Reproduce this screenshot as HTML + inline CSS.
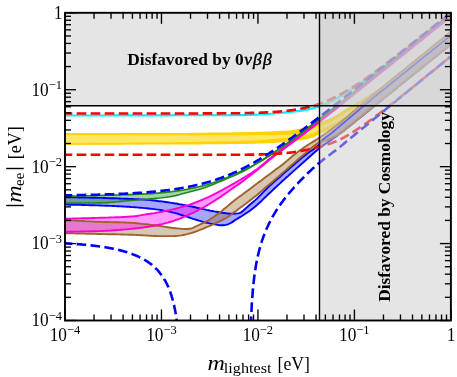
<!DOCTYPE html>
<html><head><meta charset="utf-8"><title>mee plot</title>
<style>
html,body{margin:0;padding:0;background:#fff;}
svg{display:block;will-change:transform;}
text{font-family:"Liberation Serif",serif;fill:#000;}
.tl{font-size:18px;}
.sup{font-size:13px;}
.mi{font-size:21.5px;font-style:italic;}
.ev{font-size:19px;}
.sub{font-size:14px;}
.bold{font-weight:bold;font-size:16px;}
</style></head><body>
<svg width="457" height="377" viewBox="0 0 457 377">
<rect width="457" height="377" fill="#fff"/>
<defs><clipPath id="c"><rect x="65.0" y="12.8" width="385.9" height="307.7"/></clipPath></defs>
<g clip-path="url(#c)">
<path d="M65.0,134.0L66.9,134.0L68.9,134.0L70.8,134.0L72.8,134.0L74.7,134.0L76.6,134.0L78.6,134.0L80.5,134.0L82.5,134.0L84.4,134.0L86.3,134.0L88.3,134.0L90.2,134.0L92.1,134.0L94.1,134.0L96.0,134.0L98.0,134.0L99.9,134.0L101.8,134.0L103.8,134.0L105.7,134.0L107.7,134.0L109.6,134.0L111.5,134.0L113.5,134.0L115.4,134.0L117.4,134.0L119.3,134.0L121.2,134.0L123.2,133.9L125.1,133.9L127.1,133.9L129.0,133.9L130.9,133.9L132.9,133.9L134.8,133.9L136.8,133.9L138.7,133.9L140.6,133.9L142.6,133.9L144.5,133.9L146.4,133.9L148.4,133.9L150.3,133.9L152.3,133.9L154.2,133.9L156.1,133.9L158.1,133.9L160.0,133.9L162.0,133.9L163.9,133.9L165.8,133.8L167.8,133.8L169.7,133.8L171.7,133.8L173.6,133.8L175.5,133.8L177.5,133.8L179.4,133.7L181.4,133.7L183.3,133.7L185.2,133.7L187.2,133.7L189.1,133.7L191.0,133.6L193.0,133.6L194.9,133.6L196.9,133.6L198.8,133.6L200.7,133.5L202.7,133.5L204.6,133.5L206.6,133.5L208.5,133.4L210.4,133.4L212.4,133.4L214.3,133.4L216.3,133.3L218.2,133.3L220.1,133.3L222.1,133.3L224.0,133.2L226.0,133.2L227.9,133.2L229.8,133.2L231.8,133.1L233.7,133.1L235.6,133.1L237.6,133.0L239.5,133.0L241.5,133.0L243.4,132.9L245.3,132.9L247.3,132.9L249.2,132.8L251.2,132.8L253.1,132.7L255.0,132.7L257.0,132.6L258.9,132.6L260.9,132.5L262.8,132.5L264.7,132.4L266.7,132.3L268.6,132.3L270.6,132.2L272.5,132.1L274.4,132.0L276.4,131.9L278.3,131.8L280.3,131.7L282.2,131.6L284.1,131.5L286.1,131.4L288.0,131.2L289.9,131.1L291.9,130.9L293.8,130.6L295.8,130.3L297.7,129.9L299.6,129.5L301.6,129.1L303.5,128.6L305.5,128.1L307.4,127.5L309.3,126.8L311.3,126.2L313.2,125.5L315.2,124.8L317.1,124.1L319.0,123.4L321.0,122.7L322.9,122.0L324.9,121.3L326.8,120.6L328.7,119.8L330.7,119.0L332.6,118.1L334.5,117.0L336.5,115.8L338.4,114.6L340.4,113.4L342.3,112.1L344.2,111.0L346.2,109.8L348.1,108.7L350.1,107.6L352.0,106.4L353.9,105.3L355.9,104.2L357.8,103.0L359.8,101.8L361.7,100.5L363.6,99.3L365.6,98.0L367.5,96.7L369.5,95.5L371.4,94.2L373.3,93.0L375.3,91.8L377.2,90.5L379.1,89.2L381.1,87.8L383.0,86.4L385.0,84.9L386.9,83.4L388.8,81.8L390.8,80.2L392.7,78.7L394.7,77.1L396.6,75.5L398.5,74.0L400.5,72.4L402.4,70.9L404.4,69.3L406.3,67.8L408.2,66.2L410.2,64.7L412.1,63.1L414.1,61.6L416.0,60.0L417.9,58.5L419.9,56.9L421.8,55.4L423.8,53.8L425.7,52.2L427.6,50.7L429.6,49.1L431.5,47.5L433.4,45.9L435.4,44.4L437.3,42.8L439.3,41.2L441.2,39.6L443.1,38.0L445.1,36.4L447.0,34.8L449.0,33.2L450.9,31.6L450.9,35.2L449.0,36.8L447.0,38.3L445.1,39.9L443.1,41.4L441.2,43.0L439.3,44.5L437.3,46.1L435.4,47.6L433.4,49.2L431.5,50.7L429.6,52.3L427.6,53.8L425.7,55.4L423.8,56.9L421.8,58.5L419.9,60.0L417.9,61.6L416.0,63.2L414.1,64.7L412.1,66.3L410.2,67.8L408.2,69.4L406.3,70.9L404.4,72.5L402.4,74.1L400.5,75.6L398.5,77.2L396.6,78.7L394.7,80.3L392.7,81.8L390.8,83.4L388.8,85.0L386.9,86.5L385.0,88.1L383.0,89.6L381.1,91.2L379.1,92.8L377.2,94.3L375.3,95.9L373.3,97.5L371.4,99.1L369.5,100.7L367.5,102.3L365.6,103.9L363.6,105.6L361.7,107.2L359.8,108.8L357.8,110.3L355.9,111.8L353.9,113.2L352.0,114.6L350.1,116.0L348.1,117.4L346.2,118.7L344.2,120.0L342.3,121.2L340.4,122.5L338.4,123.7L336.5,124.9L334.5,126.1L332.6,127.2L330.7,128.2L328.7,129.2L326.8,130.1L324.9,130.9L322.9,131.8L321.0,132.6L319.0,133.5L317.1,134.5L315.2,135.5L313.2,136.4L311.3,137.1L309.3,137.7L307.4,138.2L305.5,138.7L303.5,139.1L301.6,139.4L299.6,139.7L297.7,140.0L295.8,140.3L293.8,140.5L291.9,140.7L289.9,140.9L288.0,141.0L286.1,141.2L284.1,141.4L282.2,141.5L280.3,141.7L278.3,141.8L276.4,142.0L274.4,142.1L272.5,142.2L270.6,142.3L268.6,142.4L266.7,142.4L264.7,142.5L262.8,142.6L260.9,142.7L258.9,142.7L257.0,142.8L255.0,142.9L253.1,142.9L251.2,143.0L249.2,143.0L247.3,143.1L245.3,143.1L243.4,143.2L241.5,143.2L239.5,143.2L237.6,143.2L235.6,143.3L233.7,143.3L231.8,143.3L229.8,143.3L227.9,143.3L226.0,143.4L224.0,143.4L222.1,143.4L220.1,143.4L218.2,143.4L216.3,143.5L214.3,143.5L212.4,143.5L210.4,143.5L208.5,143.5L206.6,143.5L204.6,143.5L202.7,143.6L200.7,143.6L198.8,143.6L196.9,143.6L194.9,143.6L193.0,143.6L191.0,143.6L189.1,143.7L187.2,143.7L185.2,143.7L183.3,143.7L181.4,143.7L179.4,143.7L177.5,143.7L175.5,143.7L173.6,143.7L171.7,143.7L169.7,143.7L167.8,143.8L165.8,143.8L163.9,143.8L162.0,143.8L160.0,143.8L158.1,143.8L156.1,143.8L154.2,143.8L152.3,143.8L150.3,143.8L148.4,143.8L146.4,143.8L144.5,143.8L142.6,143.8L140.6,143.8L138.7,143.8L136.8,143.8L134.8,143.8L132.9,143.8L130.9,143.8L129.0,143.8L127.1,143.8L125.1,143.8L123.2,143.8L121.2,143.9L119.3,143.9L117.4,143.9L115.4,143.9L113.5,143.9L111.5,143.9L109.6,143.9L107.7,143.9L105.7,143.9L103.8,143.9L101.8,143.9L99.9,143.9L98.0,143.9L96.0,143.9L94.1,143.9L92.1,143.9L90.2,143.9L88.3,143.9L86.3,143.9L84.4,143.9L82.5,143.9L80.5,143.9L78.6,143.9L76.6,143.9L74.7,143.9L72.8,143.9L70.8,143.9L68.9,143.9L66.9,143.9L65.0,143.9Z" fill="#FFD700" fill-opacity="0.6" stroke="none"/>
<path d="M65.0,134.0L66.9,134.0L68.9,134.0L70.8,134.0L72.8,134.0L74.7,134.0L76.6,134.0L78.6,134.0L80.5,134.0L82.5,134.0L84.4,134.0L86.3,134.0L88.3,134.0L90.2,134.0L92.1,134.0L94.1,134.0L96.0,134.0L98.0,134.0L99.9,134.0L101.8,134.0L103.8,134.0L105.7,134.0L107.7,134.0L109.6,134.0L111.5,134.0L113.5,134.0L115.4,134.0L117.4,134.0L119.3,134.0L121.2,134.0L123.2,133.9L125.1,133.9L127.1,133.9L129.0,133.9L130.9,133.9L132.9,133.9L134.8,133.9L136.8,133.9L138.7,133.9L140.6,133.9L142.6,133.9L144.5,133.9L146.4,133.9L148.4,133.9L150.3,133.9L152.3,133.9L154.2,133.9L156.1,133.9L158.1,133.9L160.0,133.9L162.0,133.9L163.9,133.9L165.8,133.8L167.8,133.8L169.7,133.8L171.7,133.8L173.6,133.8L175.5,133.8L177.5,133.8L179.4,133.7L181.4,133.7L183.3,133.7L185.2,133.7L187.2,133.7L189.1,133.7L191.0,133.6L193.0,133.6L194.9,133.6L196.9,133.6L198.8,133.6L200.7,133.5L202.7,133.5L204.6,133.5L206.6,133.5L208.5,133.4L210.4,133.4L212.4,133.4L214.3,133.4L216.3,133.3L218.2,133.3L220.1,133.3L222.1,133.3L224.0,133.2L226.0,133.2L227.9,133.2L229.8,133.2L231.8,133.1L233.7,133.1L235.6,133.1L237.6,133.0L239.5,133.0L241.5,133.0L243.4,132.9L245.3,132.9L247.3,132.9L249.2,132.8L251.2,132.8L253.1,132.7L255.0,132.7L257.0,132.6L258.9,132.6L260.9,132.5L262.8,132.5L264.7,132.4L266.7,132.3L268.6,132.3L270.6,132.2L272.5,132.1L274.4,132.0L276.4,131.9L278.3,131.8L280.3,131.7L282.2,131.6L284.1,131.5L286.1,131.4L288.0,131.2L289.9,131.1L291.9,130.9L293.8,130.6L295.8,130.3L297.7,129.9L299.6,129.5L301.6,129.1L303.5,128.6L305.5,128.1L307.4,127.5L309.3,126.8L311.3,126.2L313.2,125.5L315.2,124.8L317.1,124.1L319.0,123.4L321.0,122.7L322.9,122.0L324.9,121.3L326.8,120.6L328.7,119.8L330.7,119.0L332.6,118.1L334.5,117.0L336.5,115.8L338.4,114.6L340.4,113.4L342.3,112.1L344.2,111.0L346.2,109.8L348.1,108.7L350.1,107.6L352.0,106.4L353.9,105.3L355.9,104.2L357.8,103.0L359.8,101.8L361.7,100.5L363.6,99.3L365.6,98.0L367.5,96.7L369.5,95.5L371.4,94.2L373.3,93.0L375.3,91.8L377.2,90.5L379.1,89.2L381.1,87.8L383.0,86.4L385.0,84.9L386.9,83.4L388.8,81.8L390.8,80.2L392.7,78.7L394.7,77.1L396.6,75.5L398.5,74.0L400.5,72.4L402.4,70.9L404.4,69.3L406.3,67.8L408.2,66.2L410.2,64.7L412.1,63.1L414.1,61.6L416.0,60.0L417.9,58.5L419.9,56.9L421.8,55.4L423.8,53.8L425.7,52.2L427.6,50.7L429.6,49.1L431.5,47.5L433.4,45.9L435.4,44.4L437.3,42.8L439.3,41.2L441.2,39.6L443.1,38.0L445.1,36.4L447.0,34.8L449.0,33.2L450.9,31.6L450.9,31.7L449.0,33.3L447.0,34.9L445.1,36.5L443.1,38.1L441.2,39.7L439.3,41.3L437.3,42.9L435.4,44.5L433.4,46.0L431.5,47.6L429.6,49.2L427.6,50.8L425.7,52.4L423.8,53.9L421.8,55.5L419.9,57.1L417.9,58.6L416.0,60.2L414.1,61.7L412.1,63.3L410.2,64.9L408.2,66.4L406.3,68.0L404.4,69.5L402.4,71.1L400.5,72.6L398.5,74.2L396.6,75.8L394.7,77.4L392.7,78.9L390.8,80.5L388.8,82.1L386.9,83.7L385.0,85.2L383.0,86.8L381.1,88.3L379.1,89.7L377.2,91.1L375.3,92.4L373.3,93.6L371.4,94.9L369.5,96.2L367.5,97.5L365.6,98.8L363.6,100.2L361.7,101.5L359.8,102.8L357.8,104.1L355.9,105.4L353.9,106.6L352.0,107.8L350.1,109.0L348.1,110.2L346.2,111.4L344.2,112.6L342.3,113.8L340.4,115.1L338.4,116.4L336.5,117.6L334.5,118.9L332.6,120.0L330.7,121.0L328.7,121.8L326.8,122.6L324.9,123.4L322.9,124.1L321.0,124.9L319.0,125.6L317.1,126.3L315.2,127.1L313.2,127.8L311.3,128.5L309.3,129.1L307.4,129.8L305.5,130.4L303.5,131.0L301.6,131.5L299.6,131.9L297.7,132.4L295.8,132.7L293.8,133.1L291.9,133.4L289.9,133.6L288.0,133.8L286.1,134.0L284.1,134.1L282.2,134.2L280.3,134.3L278.3,134.3L276.4,134.4L274.4,134.4L272.5,134.4L270.6,134.4L268.6,134.3L266.7,134.3L264.7,134.2L262.8,134.2L260.9,134.2L258.9,134.3L257.0,134.3L255.0,134.3L253.1,134.3L251.2,134.3L249.2,134.3L247.3,134.4L245.3,134.4L243.4,134.4L241.5,134.4L239.5,134.4L237.6,134.4L235.6,134.4L233.7,134.4L231.8,134.4L229.8,134.5L227.9,134.5L226.0,134.5L224.0,134.5L222.1,134.5L220.1,134.5L218.2,134.5L216.3,134.5L214.3,134.5L212.4,134.5L210.4,134.5L208.5,134.5L206.6,134.5L204.6,134.5L202.7,134.5L200.7,134.5L198.8,134.5L196.9,134.6L194.9,134.6L193.0,134.6L191.0,134.6L189.1,134.6L187.2,134.5L185.2,134.5L183.3,134.5L181.4,134.5L179.4,134.5L177.5,134.5L175.5,134.5L173.6,134.5L171.7,134.5L169.7,134.5L167.8,134.5L165.8,134.5L163.9,134.5L162.0,134.5L160.0,134.4L158.1,134.4L156.1,134.4L154.2,134.4L152.3,134.4L150.3,134.4L148.4,134.4L146.4,134.4L144.5,134.4L142.6,134.4L140.6,134.4L138.7,134.4L136.8,134.4L134.8,134.3L132.9,134.3L130.9,134.3L129.0,134.3L127.1,134.3L125.1,134.3L123.2,134.3L121.2,134.3L119.3,134.3L117.4,134.3L115.4,134.3L113.5,134.3L111.5,134.3L109.6,134.3L107.7,134.3L105.7,134.3L103.8,134.3L101.8,134.2L99.9,134.2L98.0,134.2L96.0,134.2L94.1,134.2L92.1,134.2L90.2,134.2L88.3,134.2L86.3,134.2L84.4,134.2L82.5,134.2L80.5,134.2L78.6,134.2L76.6,134.2L74.7,134.2L72.8,134.2L70.8,134.2L68.9,134.2L66.9,134.2L65.0,134.2Z" fill="#FFD400" fill-opacity="0.95" stroke="none"/>
<path d="M65.0,143.7L66.9,143.7L68.9,143.7L70.8,143.7L72.8,143.7L74.7,143.7L76.6,143.7L78.6,143.7L80.5,143.7L82.5,143.7L84.4,143.7L86.3,143.7L88.3,143.7L90.2,143.7L92.1,143.6L94.1,143.6L96.0,143.6L98.0,143.6L99.9,143.6L101.8,143.6L103.8,143.6L105.7,143.6L107.7,143.6L109.6,143.6L111.5,143.6L113.5,143.5L115.4,143.5L117.4,143.5L119.3,143.5L121.2,143.5L123.2,143.5L125.1,143.5L127.1,143.5L129.0,143.5L130.9,143.4L132.9,143.4L134.8,143.4L136.8,143.4L138.7,143.4L140.6,143.4L142.6,143.4L144.5,143.3L146.4,143.3L148.4,143.3L150.3,143.3L152.3,143.3L154.2,143.3L156.1,143.2L158.1,143.2L160.0,143.2L162.0,143.2L163.9,143.2L165.8,143.1L167.8,143.1L169.7,143.1L171.7,143.0L173.6,143.0L175.5,143.0L177.5,142.9L179.4,142.9L181.4,142.9L183.3,142.9L185.2,142.8L187.2,142.8L189.1,142.8L191.0,142.7L193.0,142.7L194.9,142.7L196.9,142.6L198.8,142.6L200.7,142.6L202.7,142.5L204.6,142.5L206.6,142.5L208.5,142.4L210.4,142.4L212.4,142.4L214.3,142.3L216.3,142.3L218.2,142.3L220.1,142.2L222.1,142.2L224.0,142.1L226.0,142.1L227.9,142.1L229.8,142.0L231.8,142.0L233.7,141.9L235.6,141.9L237.6,141.8L239.5,141.8L241.5,141.8L243.4,141.7L245.3,141.6L247.3,141.6L249.2,141.5L251.2,141.4L253.1,141.3L255.0,141.3L257.0,141.2L258.9,141.1L260.9,140.9L262.8,140.8L264.7,140.7L266.7,140.5L268.6,140.3L270.6,140.1L272.5,139.9L274.4,139.7L276.4,139.5L278.3,139.3L280.3,139.1L282.2,138.9L284.1,138.8L286.1,138.6L288.0,138.5L289.9,138.3L291.9,138.2L293.8,138.0L295.8,137.8L297.7,137.6L299.6,137.3L301.6,137.1L303.5,136.7L305.5,136.3L307.4,135.8L309.3,135.3L311.3,134.8L313.2,134.1L315.2,133.2L317.1,132.2L319.0,131.3L321.0,130.5L322.9,129.6L324.9,128.8L326.8,128.0L328.7,127.1L330.7,126.2L332.6,125.2L334.5,124.2L336.5,123.1L338.4,121.9L340.4,120.8L342.3,119.6L344.2,118.3L346.2,117.1L348.1,115.8L350.1,114.6L352.0,113.3L353.9,111.9L355.9,110.6L357.8,109.2L359.8,107.7L361.7,106.2L363.6,104.7L365.6,103.1L367.5,101.5L369.5,100.0L371.4,98.4L373.3,96.9L375.3,95.3L377.2,93.8L379.1,92.3L381.1,90.8L383.0,89.2L385.0,87.7L386.9,86.2L388.8,84.6L390.8,83.1L392.7,81.6L394.7,80.0L396.6,78.5L398.5,77.0L400.5,75.4L402.4,73.9L404.4,72.3L406.3,70.8L408.2,69.2L410.2,67.7L412.1,66.1L414.1,64.6L416.0,63.0L417.9,61.5L419.9,59.9L421.8,58.4L423.8,56.8L425.7,55.3L427.6,53.7L429.6,52.2L431.5,50.6L433.4,49.1L435.4,47.5L437.3,46.0L439.3,44.4L441.2,42.9L443.1,41.3L445.1,39.8L447.0,38.2L449.0,36.7L450.9,35.1L450.9,35.2L449.0,36.8L447.0,38.3L445.1,39.9L443.1,41.4L441.2,43.0L439.3,44.5L437.3,46.1L435.4,47.6L433.4,49.2L431.5,50.7L429.6,52.3L427.6,53.8L425.7,55.4L423.8,56.9L421.8,58.5L419.9,60.0L417.9,61.6L416.0,63.2L414.1,64.7L412.1,66.3L410.2,67.8L408.2,69.4L406.3,70.9L404.4,72.5L402.4,74.1L400.5,75.6L398.5,77.2L396.6,78.7L394.7,80.3L392.7,81.8L390.8,83.4L388.8,85.0L386.9,86.5L385.0,88.1L383.0,89.6L381.1,91.2L379.1,92.8L377.2,94.3L375.3,95.9L373.3,97.5L371.4,99.1L369.5,100.7L367.5,102.3L365.6,103.9L363.6,105.6L361.7,107.2L359.8,108.8L357.8,110.3L355.9,111.8L353.9,113.2L352.0,114.6L350.1,116.0L348.1,117.4L346.2,118.7L344.2,120.0L342.3,121.2L340.4,122.5L338.4,123.7L336.5,124.9L334.5,126.1L332.6,127.2L330.7,128.2L328.7,129.2L326.8,130.1L324.9,130.9L322.9,131.8L321.0,132.6L319.0,133.5L317.1,134.5L315.2,135.5L313.2,136.4L311.3,137.1L309.3,137.7L307.4,138.2L305.5,138.7L303.5,139.1L301.6,139.4L299.6,139.7L297.7,140.0L295.8,140.3L293.8,140.5L291.9,140.7L289.9,140.9L288.0,141.0L286.1,141.2L284.1,141.4L282.2,141.5L280.3,141.7L278.3,141.8L276.4,142.0L274.4,142.1L272.5,142.2L270.6,142.3L268.6,142.4L266.7,142.4L264.7,142.5L262.8,142.6L260.9,142.7L258.9,142.7L257.0,142.8L255.0,142.9L253.1,142.9L251.2,143.0L249.2,143.0L247.3,143.1L245.3,143.1L243.4,143.2L241.5,143.2L239.5,143.2L237.6,143.2L235.6,143.3L233.7,143.3L231.8,143.3L229.8,143.3L227.9,143.3L226.0,143.4L224.0,143.4L222.1,143.4L220.1,143.4L218.2,143.4L216.3,143.5L214.3,143.5L212.4,143.5L210.4,143.5L208.5,143.5L206.6,143.5L204.6,143.5L202.7,143.6L200.7,143.6L198.8,143.6L196.9,143.6L194.9,143.6L193.0,143.6L191.0,143.6L189.1,143.7L187.2,143.7L185.2,143.7L183.3,143.7L181.4,143.7L179.4,143.7L177.5,143.7L175.5,143.7L173.6,143.7L171.7,143.7L169.7,143.7L167.8,143.8L165.8,143.8L163.9,143.8L162.0,143.8L160.0,143.8L158.1,143.8L156.1,143.8L154.2,143.8L152.3,143.8L150.3,143.8L148.4,143.8L146.4,143.8L144.5,143.8L142.6,143.8L140.6,143.8L138.7,143.8L136.8,143.8L134.8,143.8L132.9,143.8L130.9,143.8L129.0,143.8L127.1,143.8L125.1,143.8L123.2,143.8L121.2,143.9L119.3,143.9L117.4,143.9L115.4,143.9L113.5,143.9L111.5,143.9L109.6,143.9L107.7,143.9L105.7,143.9L103.8,143.9L101.8,143.9L99.9,143.9L98.0,143.9L96.0,143.9L94.1,143.9L92.1,143.9L90.2,143.9L88.3,143.9L86.3,143.9L84.4,143.9L82.5,143.9L80.5,143.9L78.6,143.9L76.6,143.9L74.7,143.9L72.8,143.9L70.8,143.9L68.9,143.9L66.9,143.9L65.0,143.9Z" fill="#FFD400" fill-opacity="0.95" stroke="none"/>
<path d="M65.0,115.1L66.9,115.1L68.9,115.1L70.8,115.1L72.8,115.1L74.7,115.1L76.6,115.1L78.6,115.1L80.5,115.1L82.5,115.1L84.4,115.1L86.3,115.1L88.3,115.1L90.2,115.1L92.1,115.1L94.1,115.1L96.0,115.1L98.0,115.1L99.9,115.1L101.8,115.1L103.8,115.1L105.7,115.1L107.7,115.1L109.6,115.1L111.5,115.0L113.5,115.0L115.4,115.0L117.4,115.0L119.3,115.0L121.2,115.0L123.2,115.0L125.1,115.0L127.1,115.0L129.0,115.0L130.9,115.0L132.9,115.0L134.8,115.0L136.8,115.0L138.7,115.0L140.6,115.0L142.6,115.0L144.5,115.0L146.4,115.0L148.4,115.0L150.3,115.0L152.3,115.0L154.2,115.0L156.1,115.0L158.1,115.0L160.0,115.0L162.0,115.0L163.9,115.0L165.8,115.0L167.8,115.0L169.7,115.0L171.7,114.9L173.6,114.9L175.5,114.9L177.5,114.9L179.4,114.9L181.4,114.9L183.3,114.9L185.2,114.9L187.2,114.9L189.1,114.9L191.0,114.9L193.0,114.9L194.9,114.9L196.9,114.9L198.8,114.9L200.7,114.9L202.7,114.9L204.6,114.8L206.6,114.8L208.5,114.8L210.4,114.8L212.4,114.8L214.3,114.8L216.3,114.8L218.2,114.8L220.1,114.8L222.1,114.8L224.0,114.8L226.0,114.8L227.9,114.8L229.8,114.7L231.8,114.7L233.7,114.7L235.6,114.7L237.6,114.7L239.5,114.7L241.5,114.7L243.4,114.7L245.3,114.6L247.3,114.6L249.2,114.5L251.2,114.5L253.1,114.4L255.0,114.3L257.0,114.3L258.9,114.2L260.9,114.1L262.8,113.9L264.7,113.8L266.7,113.7L268.6,113.6L270.6,113.4L272.5,113.3L274.4,113.1L276.4,112.9L278.3,112.8L280.3,112.6L282.2,112.4L284.1,112.2L286.1,112.0L288.0,111.8L289.9,111.6L291.9,111.4L293.8,111.2L295.8,111.0L297.7,110.7L299.6,110.5L301.6,110.2L303.5,109.9L305.5,109.5L307.4,109.1L309.3,108.6L311.3,108.1L313.2,107.6L315.2,107.0L317.1,106.4L319.0,105.7L321.0,105.1L322.9,104.4L324.9,103.6L326.8,102.8L328.7,101.9L330.7,100.9L332.6,99.9L334.5,98.9L336.5,97.8L338.4,96.8L340.4,95.7L342.3,94.6L344.2,93.4L346.2,92.3L348.1,91.1L350.1,89.9L352.0,88.7L353.9,87.4L355.9,86.0L357.8,84.7L359.8,83.3L361.7,81.9L363.6,80.5L365.6,79.1L367.5,77.7L369.5,76.4L371.4,75.0L373.3,73.6L375.3,72.2L377.2,70.8L379.1,69.3L381.1,67.9L383.0,66.5L385.0,65.0L386.9,63.6L388.8,62.1L390.8,60.6L392.7,59.2L394.7,57.7L396.6,56.2L398.5,54.7L400.5,53.3L402.4,51.8L404.4,50.3L406.3,48.8L408.2,47.3L410.2,45.8L412.1,44.3L414.1,42.8L416.0,41.3L417.9,39.8L419.9,38.3L421.8,36.8L423.8,35.2L425.7,33.7L427.6,32.2L429.6,30.7L431.5,29.1L433.4,27.6L435.4,26.0L437.3,24.5L439.3,23.0L441.2,21.4L443.1,19.8L445.1,18.3L447.0,16.7L449.0,15.1L450.9,13.6L450.9,13.8L449.0,15.3L447.0,16.8L445.1,18.4L443.1,19.9L441.2,21.4L439.3,23.0L437.3,24.5L435.4,26.0L433.4,27.5L431.5,29.1L429.6,30.6L427.6,32.1L425.7,33.6L423.8,35.2L421.8,36.7L419.9,38.2L417.9,39.7L416.0,41.3L414.1,42.8L412.1,44.3L410.2,45.8L408.2,47.4L406.3,48.9L404.4,50.4L402.4,51.9L400.5,53.4L398.5,55.0L396.6,56.5L394.7,58.0L392.7,59.6L390.8,61.1L388.8,62.7L386.9,64.2L385.0,65.8L383.0,67.3L381.1,68.8L379.1,70.4L377.2,71.9L375.3,73.3L373.3,74.8L371.4,76.2L369.5,77.7L367.5,79.1L365.6,80.5L363.6,81.9L361.7,83.3L359.8,84.7L357.8,86.0L355.9,87.4L353.9,88.7L352.0,90.0L350.1,91.2L348.1,92.4L346.2,93.6L344.2,94.7L342.3,95.9L340.4,97.0L338.4,98.1L336.5,99.2L334.5,100.3L332.6,101.3L330.7,102.3L328.7,103.2L326.8,104.1L324.9,105.0L322.9,105.7L321.0,106.4L319.0,107.0L317.1,107.6L315.2,108.1L313.2,108.7L311.3,109.2L309.3,109.6L307.4,110.0L305.5,110.4L303.5,110.8L301.6,111.0L299.6,111.3L297.7,111.5L295.8,111.7L293.8,112.0L291.9,112.2L289.9,112.4L288.0,112.6L286.1,112.8L284.1,113.0L282.2,113.2L280.3,113.4L278.3,113.5L276.4,113.7L274.4,113.9L272.5,114.0L270.6,114.2L268.6,114.3L266.7,114.5L264.7,114.6L262.8,114.7L260.9,114.8L258.9,114.9L257.0,115.0L255.0,115.1L253.1,115.2L251.2,115.3L249.2,115.3L247.3,115.4L245.3,115.4L243.4,115.5L241.5,115.5L239.5,115.5L237.6,115.5L235.6,115.5L233.7,115.5L231.8,115.5L229.8,115.5L227.9,115.6L226.0,115.6L224.0,115.6L222.1,115.6L220.1,115.6L218.2,115.6L216.3,115.6L214.3,115.6L212.4,115.6L210.4,115.6L208.5,115.6L206.6,115.6L204.6,115.6L202.7,115.7L200.7,115.7L198.8,115.7L196.9,115.7L194.9,115.7L193.0,115.7L191.0,115.7L189.1,115.7L187.2,115.7L185.2,115.7L183.3,115.7L181.4,115.7L179.4,115.7L177.5,115.7L175.5,115.7L173.6,115.7L171.7,115.7L169.7,115.8L167.8,115.8L165.8,115.8L163.9,115.8L162.0,115.8L160.0,115.8L158.1,115.8L156.1,115.8L154.2,115.8L152.3,115.8L150.3,115.8L148.4,115.8L146.4,115.8L144.5,115.8L142.6,115.8L140.6,115.8L138.7,115.8L136.8,115.8L134.8,115.8L132.9,115.8L130.9,115.8L129.0,115.8L127.1,115.8L125.1,115.8L123.2,115.8L121.2,115.8L119.3,115.8L117.4,115.8L115.4,115.8L113.5,115.8L111.5,115.8L109.6,115.9L107.7,115.9L105.7,115.9L103.8,115.9L101.8,115.9L99.9,115.9L98.0,115.9L96.0,115.9L94.1,115.9L92.1,115.9L90.2,115.9L88.3,115.9L86.3,115.9L84.4,115.9L82.5,115.9L80.5,115.9L78.6,115.9L76.6,115.9L74.7,115.9L72.8,115.9L70.8,115.9L68.9,115.9L66.9,115.9L65.0,115.9Z" fill="#00FFFF" fill-opacity="0.6" stroke="none"/>
<path d="M65.0,197.3L66.9,197.3L68.9,197.3L70.8,197.4L72.8,197.4L74.7,197.4L76.6,197.4L78.6,197.5L80.5,197.5L82.5,197.5L84.4,197.6L86.3,197.6L88.3,197.6L90.2,197.7L92.1,197.7L94.1,197.8L96.0,197.8L98.0,197.9L99.9,197.9L101.8,197.9L103.8,198.0L105.7,198.0L107.7,198.1L109.6,198.2L111.5,198.2L113.5,198.3L115.4,198.3L117.4,198.4L119.3,198.5L121.2,198.6L123.2,198.6L125.1,198.7L127.1,198.8L129.0,198.9L130.9,198.9L132.9,199.0L134.8,199.1L136.8,199.2L138.7,199.3L140.6,199.4L142.6,199.5L144.5,199.6L146.4,199.7L148.4,199.9L150.3,200.1L152.3,200.3L154.2,200.5L156.1,200.7L158.1,201.0L160.0,201.2L162.0,201.4L163.9,201.7L165.8,202.0L167.8,202.3L169.7,202.6L171.7,202.9L173.6,203.2L175.5,203.5L177.5,203.8L179.4,204.2L181.4,204.5L183.3,204.9L185.2,205.3L187.2,205.6L189.1,206.0L191.0,206.4L193.0,206.8L194.9,207.2L196.9,207.7L198.8,208.1L200.7,208.6L202.7,209.0L204.6,209.4L206.6,209.9L208.5,210.3L210.4,210.7L212.4,211.0L214.3,211.4L216.3,211.7L218.2,212.0L220.1,212.4L222.1,212.7L224.0,213.0L226.0,213.3L227.9,213.5L229.8,213.7L231.8,213.8L233.7,213.8L235.6,213.6L237.6,213.4L239.5,213.1L241.5,212.1L243.4,210.5L245.3,208.8L247.3,207.0L249.2,205.2L251.2,203.6L253.1,202.0L255.0,200.4L257.0,198.6L258.9,196.7L260.9,194.7L262.8,192.7L264.7,190.6L266.7,188.7L268.6,186.8L270.6,185.1L272.5,183.3L274.4,181.6L276.4,179.9L278.3,178.2L280.3,176.5L282.2,174.8L284.1,173.1L286.1,171.4L288.0,169.7L289.9,168.0L291.9,166.3L293.8,164.7L295.8,163.0L297.7,161.3L299.6,159.7L301.6,158.1L303.5,156.5L305.5,154.9L307.4,153.4L309.3,152.0L311.3,150.7L313.2,149.4L315.2,147.9L317.1,146.3L319.0,144.3L321.0,141.5L322.9,139.5L324.9,137.9L326.8,136.6L328.7,135.2L330.7,133.8L332.6,132.2L334.5,130.6L336.5,128.9L338.4,127.2L340.4,125.6L342.3,123.9L344.2,122.3L346.2,120.6L348.1,119.0L350.1,117.3L352.0,115.7L353.9,114.0L355.9,112.4L357.8,110.8L359.8,109.1L361.7,107.5L363.6,105.8L365.6,104.2L367.5,102.6L369.5,101.0L371.4,99.4L373.3,97.8L375.3,96.2L377.2,94.6L379.1,93.1L381.1,91.5L383.0,89.9L385.0,88.4L386.9,86.8L388.8,85.2L390.8,83.7L392.7,82.1L394.7,80.5L396.6,79.0L398.5,77.4L400.5,75.8L402.4,74.3L404.4,72.7L406.3,71.2L408.2,69.6L410.2,68.0L412.1,66.5L414.1,64.9L416.0,63.3L417.9,61.8L419.9,60.2L421.8,58.7L423.8,57.1L425.7,55.6L427.6,54.0L429.6,52.4L431.5,50.9L433.4,49.3L435.4,47.8L437.3,46.2L439.3,44.7L441.2,43.1L443.1,41.6L445.1,40.0L447.0,38.5L449.0,36.9L450.9,35.4L450.9,44.6L449.0,46.1L447.0,47.7L445.1,49.2L443.1,50.8L441.2,52.3L439.3,53.9L437.3,55.4L435.4,57.0L433.4,58.6L431.5,60.1L429.6,61.7L427.6,63.2L425.7,64.8L423.8,66.3L421.8,67.9L419.9,69.4L417.9,71.0L416.0,72.6L414.1,74.1L412.1,75.7L410.2,77.2L408.2,78.8L406.3,80.4L404.4,81.9L402.4,83.5L400.5,85.0L398.5,86.6L396.6,88.2L394.7,89.7L392.7,91.3L390.8,92.9L388.8,94.4L386.9,96.0L385.0,97.6L383.0,99.1L381.1,100.7L379.1,102.3L377.2,103.8L375.3,105.4L373.3,107.0L371.4,108.6L369.5,110.2L367.5,111.7L365.6,113.3L363.6,114.9L361.7,116.5L359.8,118.0L357.8,119.6L355.9,121.1L353.9,122.7L352.0,124.2L350.1,125.8L348.1,127.3L346.2,128.8L344.2,130.4L342.3,131.9L340.4,133.3L338.4,134.8L336.5,136.2L334.5,137.6L332.6,139.0L330.7,140.3L328.7,141.6L326.8,142.9L324.9,144.3L322.9,145.7L321.0,147.1L319.0,148.6L317.1,150.2L315.2,151.8L313.2,153.5L311.3,155.3L309.3,157.0L307.4,158.8L305.5,160.5L303.5,162.2L301.6,163.9L299.6,165.7L297.7,167.4L295.8,169.1L293.8,170.9L291.9,172.6L289.9,174.3L288.0,176.1L286.1,177.8L284.1,179.6L282.2,181.3L280.3,183.1L278.3,184.9L276.4,186.7L274.4,188.5L272.5,190.4L270.6,192.2L268.6,194.0L266.7,195.9L264.7,197.7L262.8,199.6L260.9,201.5L258.9,203.3L257.0,205.0L255.0,206.7L253.1,208.2L251.2,209.7L249.2,211.2L247.3,212.5L245.3,213.8L243.4,215.0L241.5,216.2L239.5,217.4L237.6,218.6L235.6,219.8L233.7,221.1L231.8,222.4L229.8,223.5L227.9,224.4L226.0,224.9L224.0,225.2L222.1,225.3L220.1,225.2L218.2,225.0L216.3,224.6L214.3,224.3L212.4,223.9L210.4,223.6L208.5,223.2L206.6,222.7L204.6,222.3L202.7,221.8L200.7,221.2L198.8,220.6L196.9,220.0L194.9,219.4L193.0,218.8L191.0,218.1L189.1,217.5L187.2,216.9L185.2,216.2L183.3,215.6L181.4,215.0L179.4,214.4L177.5,213.7L175.5,213.2L173.6,212.6L171.7,212.2L169.7,211.7L167.8,211.3L165.8,210.9L163.9,210.6L162.0,210.2L160.0,209.9L158.1,209.6L156.1,209.4L154.2,209.1L152.3,208.9L150.3,208.7L148.4,208.5L146.4,208.3L144.5,208.1L142.6,207.9L140.6,207.7L138.7,207.6L136.8,207.4L134.8,207.2L132.9,207.1L130.9,207.0L129.0,206.8L127.1,206.7L125.1,206.6L123.2,206.5L121.2,206.4L119.3,206.3L117.4,206.2L115.4,206.1L113.5,206.0L111.5,205.9L109.6,205.9L107.7,205.8L105.7,205.7L103.8,205.6L101.8,205.6L99.9,205.5L98.0,205.4L96.0,205.4L94.1,205.3L92.1,205.2L90.2,205.2L88.3,205.1L86.3,205.1L84.4,205.0L82.5,205.0L80.5,204.9L78.6,204.9L76.6,204.8L74.7,204.8L72.8,204.7L70.8,204.7L68.9,204.7L66.9,204.6L65.0,204.6Z" fill="#0000FF" fill-opacity="0.35" stroke="none"/>
<path d="M65.0,219.9L66.9,220.0L68.9,220.2L70.8,220.3L72.8,220.4L74.7,220.6L76.6,220.7L78.6,220.8L80.5,220.9L82.5,221.0L84.4,221.1L86.3,221.3L88.3,221.4L90.2,221.4L92.1,221.5L94.1,221.6L96.0,221.7L98.0,221.8L99.9,221.8L101.8,221.9L103.8,221.9L105.7,222.0L107.7,222.0L109.6,222.1L111.5,222.1L113.5,222.2L115.4,222.2L117.4,222.3L119.3,222.3L121.2,222.4L123.2,222.4L125.1,222.5L127.1,222.6L129.0,222.7L130.9,222.7L132.9,222.9L134.8,223.0L136.8,223.2L138.7,223.4L140.6,223.7L142.6,223.9L144.5,224.1L146.4,224.3L148.4,224.5L150.3,224.8L152.3,225.0L154.2,225.2L156.1,225.5L158.1,225.8L160.0,226.0L162.0,226.3L163.9,226.6L165.8,226.9L167.8,227.2L169.7,227.5L171.7,227.8L173.6,228.0L175.5,228.2L177.5,228.4L179.4,228.6L181.4,228.8L183.3,228.9L185.2,229.0L187.2,229.0L189.1,228.8L191.0,228.6L193.0,227.9L194.9,226.8L196.9,226.0L198.8,225.1L200.7,224.2L202.7,223.3L204.6,222.3L206.6,221.3L208.5,220.2L210.4,219.0L212.4,217.8L214.3,216.5L216.3,215.1L218.2,213.7L220.1,212.3L222.1,210.7L224.0,209.1L226.0,207.5L227.9,205.9L229.8,204.2L231.8,202.5L233.7,200.9L235.6,199.5L237.6,198.0L239.5,196.6L241.5,195.2L243.4,193.8L245.3,192.3L247.3,190.9L249.2,189.4L251.2,188.0L253.1,186.5L255.0,185.0L257.0,183.6L258.9,182.1L260.9,180.7L262.8,179.2L264.7,177.8L266.7,176.3L268.6,174.9L270.6,173.4L272.5,172.0L274.4,170.6L276.4,169.1L278.3,167.7L280.3,166.2L282.2,164.7L284.1,163.2L286.1,161.6L288.0,159.9L289.9,158.3L291.9,156.6L293.8,155.1L295.8,153.6L297.7,152.1L299.6,150.6L301.6,149.2L303.5,147.9L305.5,146.5L307.4,145.2L309.3,144.0L311.3,142.8L313.2,141.6L315.2,140.4L317.1,139.2L319.0,137.9L321.0,136.6L322.9,135.4L324.9,134.1L326.8,132.8L328.7,131.4L330.7,130.1L332.6,128.6L334.5,127.1L336.5,125.6L338.4,124.0L340.4,122.4L342.3,120.8L344.2,119.2L346.2,117.6L348.1,115.9L350.1,114.3L352.0,112.6L353.9,110.9L355.9,109.2L357.8,107.6L359.8,105.9L361.7,104.3L363.6,102.6L365.6,101.0L367.5,99.4L369.5,97.8L371.4,96.2L373.3,94.6L375.3,93.0L377.2,91.4L379.1,89.9L381.1,88.3L383.0,86.7L385.0,85.1L386.9,83.6L388.8,82.0L390.8,80.4L392.7,78.8L394.7,77.3L396.6,75.7L398.5,74.1L400.5,72.5L402.4,71.0L404.4,69.4L406.3,67.8L408.2,66.3L410.2,64.7L412.1,63.1L414.1,61.5L416.0,60.0L417.9,58.4L419.9,56.8L421.8,55.2L423.8,53.7L425.7,52.1L427.6,50.5L429.6,48.9L431.5,47.4L433.4,45.8L435.4,44.2L437.3,42.6L439.3,41.1L441.2,39.5L443.1,37.9L445.1,36.3L447.0,34.8L449.0,33.2L450.9,31.6L450.9,44.2L449.0,45.7L447.0,47.3L445.1,48.8L443.1,50.4L441.2,51.9L439.3,53.5L437.3,55.0L435.4,56.6L433.4,58.2L431.5,59.7L429.6,61.3L427.6,62.8L425.7,64.4L423.8,65.9L421.8,67.5L419.9,69.0L417.9,70.6L416.0,72.2L414.1,73.7L412.1,75.3L410.2,76.8L408.2,78.4L406.3,80.0L404.4,81.5L402.4,83.1L400.5,84.6L398.5,86.2L396.6,87.8L394.7,89.3L392.7,90.9L390.8,92.5L388.8,94.0L386.9,95.6L385.0,97.2L383.0,98.7L381.1,100.3L379.1,101.9L377.2,103.4L375.3,105.0L373.3,106.6L371.4,108.2L369.5,109.8L367.5,111.3L365.6,112.9L363.6,114.5L361.7,116.1L359.8,117.6L357.8,119.2L355.9,120.8L353.9,122.4L352.0,124.1L350.1,125.7L348.1,127.4L346.2,129.0L344.2,130.6L342.3,132.0L340.4,133.4L338.4,134.6L336.5,135.7L334.5,136.7L332.6,137.6L330.7,138.4L328.7,139.2L326.8,140.0L324.9,140.6L322.9,141.2L321.0,141.9L319.0,142.7L317.1,143.8L315.2,145.1L313.2,146.6L311.3,148.2L309.3,149.9L307.4,151.6L305.5,153.2L303.5,154.8L301.6,156.4L299.6,158.0L297.7,159.7L295.8,161.4L293.8,163.1L291.9,164.8L289.9,166.5L288.0,168.2L286.1,169.9L284.1,171.6L282.2,173.3L280.3,175.0L278.3,176.7L276.4,178.3L274.4,180.0L272.5,181.6L270.6,183.3L268.6,184.9L266.7,186.6L264.7,188.2L262.8,189.9L260.9,191.6L258.9,193.3L257.0,194.9L255.0,196.5L253.1,198.0L251.2,199.5L249.2,201.0L247.3,202.5L245.3,203.9L243.4,205.4L241.5,206.8L239.5,208.3L237.6,209.7L235.6,211.2L233.7,212.6L231.8,214.1L229.8,215.5L227.9,216.8L226.0,218.0L224.0,219.1L222.1,220.1L220.1,221.0L218.2,222.0L216.3,222.9L214.3,223.8L212.4,224.7L210.4,225.6L208.5,226.4L206.6,227.2L204.6,228.0L202.7,228.8L200.7,229.6L198.8,230.4L196.9,231.1L194.9,231.8L193.0,232.5L191.0,233.1L189.1,233.6L187.2,234.2L185.2,234.6L183.3,235.0L181.4,235.4L179.4,235.6L177.5,235.9L175.5,236.0L173.6,236.1L171.7,236.1L169.7,236.1L167.8,236.1L165.8,236.1L163.9,236.1L162.0,236.1L160.0,236.1L158.1,236.1L156.1,236.0L154.2,236.0L152.3,235.9L150.3,235.7L148.4,235.6L146.4,235.5L144.5,235.4L142.6,235.3L140.6,235.2L138.7,235.1L136.8,235.0L134.8,234.9L132.9,234.8L130.9,234.7L129.0,234.7L127.1,234.6L125.1,234.6L123.2,234.5L121.2,234.5L119.3,234.4L117.4,234.4L115.4,234.3L113.5,234.3L111.5,234.2L109.6,234.2L107.7,234.2L105.7,234.1L103.8,234.1L101.8,234.0L99.9,234.0L98.0,234.0L96.0,233.9L94.1,233.9L92.1,233.8L90.2,233.8L88.3,233.7L86.3,233.7L84.4,233.6L82.5,233.6L80.5,233.5L78.6,233.5L76.6,233.5L74.7,233.4L72.8,233.4L70.8,233.3L68.9,233.3L66.9,233.2L65.0,233.2Z" fill="#A0703A" fill-opacity="0.4" stroke="none"/>
<path d="M65.0,218.7L66.9,218.7L68.9,218.6L70.8,218.6L72.8,218.5L74.7,218.5L76.6,218.5L78.6,218.4L80.5,218.4L82.5,218.3L84.4,218.3L86.3,218.2L88.3,218.2L90.2,218.1L92.1,218.0L94.1,218.0L96.0,217.9L98.0,217.9L99.9,217.8L101.8,217.7L103.8,217.7L105.7,217.6L107.7,217.6L109.6,217.5L111.5,217.4L113.5,217.4L115.4,217.3L117.4,217.2L119.3,217.2L121.2,217.1L123.2,217.0L125.1,216.9L127.1,216.8L129.0,216.7L130.9,216.5L132.9,216.4L134.8,216.2L136.8,216.0L138.7,215.6L140.6,215.3L142.6,214.9L144.5,214.6L146.4,214.3L148.4,214.0L150.3,213.7L152.3,213.4L154.2,213.1L156.1,212.7L158.1,212.4L160.0,212.0L162.0,211.7L163.9,211.3L165.8,210.9L167.8,210.5L169.7,210.1L171.7,209.6L173.6,209.1L175.5,208.7L177.5,208.2L179.4,207.7L181.4,207.1L183.3,206.6L185.2,206.0L187.2,205.4L189.1,204.8L191.0,204.1L193.0,203.5L194.9,202.7L196.9,202.0L198.8,201.2L200.7,200.4L202.7,199.6L204.6,198.7L206.6,197.9L208.5,197.0L210.4,196.1L212.4,195.1L214.3,194.2L216.3,193.2L218.2,192.2L220.1,191.2L222.1,190.1L224.0,189.0L226.0,187.9L227.9,186.9L229.8,185.8L231.8,184.7L233.7,183.6L235.6,182.5L237.6,181.3L239.5,180.2L241.5,179.1L243.4,177.9L245.3,176.7L247.3,175.6L249.2,174.4L251.2,173.2L253.1,171.9L255.0,170.6L257.0,169.2L258.9,167.7L260.9,166.1L262.8,164.5L264.7,162.9L266.7,161.2L268.6,159.6L270.6,158.1L272.5,156.6L274.4,155.0L276.4,153.5L278.3,152.1L280.3,150.6L282.2,149.1L284.1,147.6L286.1,146.2L288.0,144.7L289.9,143.3L291.9,141.8L293.8,140.4L295.8,138.9L297.7,137.5L299.6,136.0L301.6,134.5L303.5,133.1L305.5,131.6L307.4,130.1L309.3,128.6L311.3,127.2L313.2,125.7L315.2,124.2L317.1,122.7L319.0,121.2L321.0,119.7L322.9,118.2L324.9,116.7L326.8,115.1L328.7,113.6L330.7,112.1L332.6,110.6L334.5,109.0L336.5,107.5L338.4,106.0L340.4,104.4L342.3,102.9L344.2,101.3L346.2,99.8L348.1,98.2L350.1,96.7L352.0,95.1L353.9,93.6L355.9,92.0L357.8,90.5L359.8,88.9L361.7,87.4L363.6,85.8L365.6,84.3L367.5,82.7L369.5,81.2L371.4,79.6L373.3,78.0L375.3,76.5L377.2,74.9L379.1,73.4L381.1,71.8L383.0,70.3L385.0,68.7L386.9,67.2L388.8,65.6L390.8,64.1L392.7,62.5L394.7,61.0L396.6,59.5L398.5,57.9L400.5,56.4L402.4,54.8L404.4,53.3L406.3,51.7L408.2,50.2L410.2,48.6L412.1,47.1L414.1,45.5L416.0,44.0L417.9,42.4L419.9,40.9L421.8,39.3L423.8,37.7L425.7,36.2L427.6,34.6L429.6,33.1L431.5,31.5L433.4,30.0L435.4,28.4L437.3,26.9L439.3,25.3L441.2,23.8L443.1,22.2L445.1,20.7L447.0,19.1L449.0,17.6L450.9,16.0L450.9,16.6L449.0,18.2L447.0,19.7L445.1,21.3L443.1,22.8L441.2,24.4L439.3,25.9L437.3,27.5L435.4,29.0L433.4,30.6L431.5,32.1L429.6,33.7L427.6,35.3L425.7,36.8L423.8,38.4L421.8,39.9L419.9,41.5L417.9,43.0L416.0,44.6L414.1,46.1L412.1,47.7L410.2,49.2L408.2,50.8L406.3,52.4L404.4,53.9L402.4,55.5L400.5,57.0L398.5,58.6L396.6,60.1L394.7,61.7L392.7,63.2L390.8,64.8L388.8,66.3L386.9,67.9L385.0,69.4L383.0,71.0L381.1,72.5L379.1,74.1L377.2,75.7L375.3,77.2L373.3,78.8L371.4,80.3L369.5,81.9L367.5,83.5L365.6,85.0L363.6,86.6L361.7,88.2L359.8,89.7L357.8,91.3L355.9,92.8L353.9,94.4L352.0,96.0L350.1,97.5L348.1,99.1L346.2,100.6L344.2,102.2L342.3,103.8L340.4,105.3L338.4,106.9L336.5,108.4L334.5,109.9L332.6,111.5L330.7,113.0L328.7,114.6L326.8,116.1L324.9,117.6L322.9,119.1L321.0,120.7L319.0,122.2L317.1,123.7L315.2,125.2L313.2,126.7L311.3,128.2L309.3,129.7L307.4,131.2L305.5,132.7L303.5,134.2L301.6,135.6L299.6,137.1L297.7,138.6L295.8,140.0L293.8,141.5L291.9,142.9L289.9,144.4L288.0,145.8L286.1,147.3L284.1,148.7L282.2,150.2L280.3,151.7L278.3,153.1L276.4,154.6L274.4,156.1L272.5,157.6L270.6,159.1L268.6,160.6L266.7,162.2L264.7,163.8L262.8,165.4L260.9,167.0L258.9,168.6L257.0,170.2L255.0,171.7L253.1,173.3L251.2,174.8L249.2,176.3L247.3,177.8L245.3,179.3L243.4,180.8L241.5,182.2L239.5,183.6L237.6,184.9L235.6,186.3L233.7,187.6L231.8,189.0L229.8,190.3L227.9,191.7L226.0,193.0L224.0,194.4L222.1,195.7L220.1,197.1L218.2,198.4L216.3,199.6L214.3,200.9L212.4,202.1L210.4,203.3L208.5,204.5L206.6,205.6L204.6,206.7L202.7,207.8L200.7,208.9L198.8,209.9L196.9,210.9L194.9,211.9L193.0,212.8L191.0,213.7L189.1,214.6L187.2,215.5L185.2,216.3L183.3,217.2L181.4,218.0L179.4,218.8L177.5,219.5L175.5,220.2L173.6,220.9L171.7,221.5L169.7,222.0L167.8,222.6L165.8,223.1L163.9,223.6L162.0,224.1L160.0,224.5L158.1,224.9L156.1,225.3L154.2,225.7L152.3,226.1L150.3,226.4L148.4,226.7L146.4,227.0L144.5,227.3L142.6,227.6L140.6,227.8L138.7,228.1L136.8,228.3L134.8,228.5L132.9,228.7L130.9,228.9L129.0,229.1L127.1,229.3L125.1,229.4L123.2,229.6L121.2,229.7L119.3,229.9L117.4,230.0L115.4,230.2L113.5,230.3L111.5,230.5L109.6,230.6L107.7,230.7L105.7,230.8L103.8,230.9L101.8,231.0L99.9,231.1L98.0,231.1L96.0,231.2L94.1,231.2L92.1,231.3L90.2,231.3L88.3,231.4L86.3,231.4L84.4,231.5L82.5,231.5L80.5,231.5L78.6,231.6L76.6,231.6L74.7,231.6L72.8,231.7L70.8,231.7L68.9,231.7L66.9,231.7L65.0,231.7Z" fill="#FF00FF" fill-opacity="0.4" stroke="none"/>
<path d="M65.0,196.3L66.9,196.2L68.9,196.2L70.8,196.1L72.8,196.1L74.7,196.1L76.6,196.0L78.6,196.0L80.5,196.0L82.5,195.9L84.4,195.9L86.3,195.8L88.3,195.8L90.2,195.7L92.1,195.7L94.1,195.6L96.0,195.6L98.0,195.5L99.9,195.5L101.8,195.4L103.8,195.4L105.7,195.3L107.7,195.3L109.6,195.2L111.5,195.2L113.5,195.1L115.4,195.1L117.4,195.0L119.3,195.0L121.2,194.9L123.2,194.8L125.1,194.8L127.1,194.7L129.0,194.6L130.9,194.6L132.9,194.5L134.8,194.4L136.8,194.3L138.7,194.3L140.6,194.2L142.6,194.1L144.5,194.0L146.4,193.9L148.4,193.8L150.3,193.7L152.3,193.6L154.2,193.4L156.1,193.3L158.1,193.1L160.0,192.9L162.0,192.8L163.9,192.6L165.8,192.4L167.8,192.1L169.7,191.9L171.7,191.7L173.6,191.4L175.5,191.2L177.5,190.9L179.4,190.6L181.4,190.3L183.3,190.0L185.2,189.6L187.2,189.3L189.1,188.9L191.0,188.5L193.0,188.1L194.9,187.7L196.9,187.3L198.8,186.8L200.7,186.3L202.7,185.9L204.6,185.3L206.6,184.8L208.5,184.2L210.4,183.6L212.4,183.0L214.3,182.3L216.3,181.7L218.2,181.0L220.1,180.2L222.1,179.5L224.0,178.7L226.0,178.0L227.9,177.2L229.8,176.3L231.8,175.5L233.7,174.7L235.6,173.8L237.6,172.9L239.5,172.0L241.5,171.1L243.4,170.2L245.3,169.3L247.3,168.4L249.2,167.4L251.2,166.5L253.1,165.5L255.0,164.4L257.0,163.4L258.9,162.3L260.9,161.2L262.8,160.0L264.7,158.8L266.7,157.6L268.6,156.4L270.6,155.1L272.5,153.8L274.4,152.5L276.4,151.2L278.3,149.9L280.3,148.5L282.2,147.1L284.1,145.7L286.1,144.3L288.0,142.9L289.9,141.4L291.9,140.0L293.8,138.5L295.8,137.1L297.7,135.6L299.6,134.1L301.6,132.7L303.5,131.2L305.5,129.7L307.4,128.2L309.3,126.8L311.3,125.3L313.2,123.8L315.2,122.4L317.1,120.9L319.0,119.5L321.0,118.0L322.9,116.6L324.9,115.1L326.8,113.6L328.7,112.1L330.7,110.6L332.6,109.1L334.5,107.6L336.5,106.1L338.4,104.6L340.4,103.0L342.3,101.5L344.2,99.9L346.2,98.4L348.1,96.8L350.1,95.2L352.0,93.6L353.9,92.1L355.9,90.5L357.8,88.9L359.8,87.3L361.7,85.7L363.6,84.2L365.6,82.6L367.5,81.0L369.5,79.4L371.4,77.8L373.3,76.3L375.3,74.7L377.2,73.1L379.1,71.6L381.1,70.0L383.0,68.5L385.0,66.9L386.9,65.4L388.8,63.8L390.8,62.2L392.7,60.7L394.7,59.1L396.6,57.6L398.5,56.0L400.5,54.5L402.4,52.9L404.4,51.3L406.3,49.8L408.2,48.2L410.2,46.7L412.1,45.1L414.1,43.5L416.0,42.0L417.9,40.4L419.9,38.9L421.8,37.3L423.8,35.7L425.7,34.2L427.6,32.6L429.6,31.0L431.5,29.5L433.4,27.9L435.4,26.3L437.3,24.8L439.3,23.2L441.2,21.6L443.1,20.1L445.1,18.5L447.0,16.9L449.0,15.4L450.9,13.8L450.9,13.8L449.0,15.4L447.0,16.9L445.1,18.5L443.1,20.1L441.2,21.6L439.3,23.2L437.3,24.8L435.4,26.3L433.4,27.9L431.5,29.5L429.6,31.0L427.6,32.6L425.7,34.2L423.8,35.7L421.8,37.3L419.9,38.9L417.9,40.4L416.0,42.0L414.1,43.5L412.1,45.1L410.2,46.7L408.2,48.2L406.3,49.8L404.4,51.3L402.4,52.9L400.5,54.5L398.5,56.0L396.6,57.6L394.7,59.1L392.7,60.7L390.8,62.2L388.8,63.8L386.9,65.4L385.0,66.9L383.0,68.5L381.1,70.0L379.1,71.6L377.2,73.1L375.3,74.7L373.3,76.3L371.4,77.8L369.5,79.4L367.5,81.0L365.6,82.5L363.6,84.1L361.7,85.7L359.8,87.2L357.8,88.8L355.9,90.4L353.9,91.9L352.0,93.5L350.1,95.1L348.1,96.6L346.2,98.2L344.2,99.8L342.3,101.3L340.4,102.9L338.4,104.4L336.5,105.9L334.5,107.5L332.6,109.0L330.7,110.5L328.7,112.0L326.8,113.5L324.9,115.0L322.9,116.5L321.0,118.0L319.0,119.5L317.1,120.9L315.2,122.4L313.2,123.9L311.3,125.3L309.3,126.8L307.4,128.3L305.5,129.7L303.5,131.2L301.6,132.6L299.6,134.1L297.7,135.5L295.8,136.9L293.8,138.3L291.9,139.8L289.9,141.2L288.0,142.6L286.1,144.0L284.1,145.3L282.2,146.7L280.3,148.1L278.3,149.4L276.4,150.7L274.4,152.1L272.5,153.4L270.6,154.7L268.6,156.0L266.7,157.2L264.7,158.5L262.8,159.7L260.9,160.9L258.9,162.1L257.0,163.3L255.0,164.5L253.1,165.6L251.2,166.8L249.2,168.0L247.3,169.1L245.3,170.2L243.4,171.2L241.5,172.2L239.5,173.1L237.6,174.0L235.6,174.9L233.7,175.7L231.8,176.6L229.8,177.4L227.9,178.3L226.0,179.1L224.0,179.9L222.1,180.7L220.1,181.5L218.2,182.3L216.3,183.1L214.3,183.9L212.4,184.7L210.4,185.5L208.5,186.3L206.6,187.0L204.6,187.7L202.7,188.3L200.7,188.9L198.8,189.5L196.9,190.0L194.9,190.5L193.0,191.0L191.0,191.5L189.1,192.0L187.2,192.6L185.2,193.1L183.3,193.6L181.4,194.1L179.4,194.7L177.5,195.1L175.5,195.6L173.6,196.0L171.7,196.4L169.7,196.7L167.8,197.0L165.8,197.3L163.9,197.5L162.0,197.8L160.0,198.0L158.1,198.2L156.1,198.4L154.2,198.6L152.3,198.8L150.3,198.9L148.4,199.1L146.4,199.3L144.5,199.4L142.6,199.6L140.6,199.7L138.7,199.9L136.8,200.0L134.8,200.2L132.9,200.3L130.9,200.5L129.0,200.7L127.1,200.8L125.1,201.0L123.2,201.2L121.2,201.4L119.3,201.6L117.4,201.8L115.4,202.0L113.5,202.2L111.5,202.3L109.6,202.5L107.7,202.6L105.7,202.7L103.8,202.8L101.8,202.9L99.9,202.9L98.0,202.9L96.0,202.9L94.1,203.0L92.1,203.0L90.2,203.0L88.3,203.0L86.3,203.0L84.4,203.0L82.5,203.0L80.5,203.1L78.6,203.1L76.6,203.1L74.7,203.1L72.8,203.1L70.8,203.1L68.9,203.1L66.9,203.1L65.0,203.1Z" fill="#228B22" fill-opacity="0.4" stroke="none"/>
<path d="M65.0,134.0L66.9,134.0L68.9,134.0L70.8,134.0L72.8,134.0L74.7,134.0L76.6,134.0L78.6,134.0L80.5,134.0L82.5,134.0L84.4,134.0L86.3,134.0L88.3,134.0L90.2,134.0L92.1,134.0L94.1,134.0L96.0,134.0L98.0,134.0L99.9,134.0L101.8,134.0L103.8,134.0L105.7,134.0L107.7,134.0L109.6,134.0L111.5,134.0L113.5,134.0L115.4,134.0L117.4,134.0L119.3,134.0L121.2,134.0L123.2,133.9L125.1,133.9L127.1,133.9L129.0,133.9L130.9,133.9L132.9,133.9L134.8,133.9L136.8,133.9L138.7,133.9L140.6,133.9L142.6,133.9L144.5,133.9L146.4,133.9L148.4,133.9L150.3,133.9L152.3,133.9L154.2,133.9L156.1,133.9L158.1,133.9L160.0,133.9L162.0,133.9L163.9,133.9L165.8,133.8L167.8,133.8L169.7,133.8L171.7,133.8L173.6,133.8L175.5,133.8L177.5,133.8L179.4,133.7L181.4,133.7L183.3,133.7L185.2,133.7L187.2,133.7L189.1,133.7L191.0,133.6L193.0,133.6L194.9,133.6L196.9,133.6L198.8,133.6L200.7,133.5L202.7,133.5L204.6,133.5L206.6,133.5L208.5,133.4L210.4,133.4L212.4,133.4L214.3,133.4L216.3,133.3L218.2,133.3L220.1,133.3L222.1,133.3L224.0,133.2L226.0,133.2L227.9,133.2L229.8,133.2L231.8,133.1L233.7,133.1L235.6,133.1L237.6,133.0L239.5,133.0L241.5,133.0L243.4,132.9L245.3,132.9L247.3,132.9L249.2,132.8L251.2,132.8L253.1,132.7L255.0,132.7L257.0,132.6L258.9,132.6L260.9,132.5L262.8,132.5L264.7,132.4L266.7,132.3L268.6,132.3L270.6,132.2L272.5,132.1L274.4,132.0L276.4,131.9L278.3,131.8L280.3,131.7L282.2,131.6L284.1,131.5L286.1,131.4L288.0,131.2L289.9,131.1L291.9,130.9L293.8,130.6L295.8,130.3L297.7,129.9L299.6,129.5L301.6,129.1L303.5,128.6L305.5,128.1L307.4,127.5L309.3,126.8L311.3,126.2L313.2,125.5L315.2,124.8L317.1,124.1L319.0,123.4L321.0,122.7L322.9,122.0L324.9,121.3L326.8,120.6L328.7,119.8L330.7,119.0L332.6,118.1L334.5,117.0L336.5,115.8L338.4,114.6L340.4,113.4L342.3,112.1L344.2,111.0L346.2,109.8L348.1,108.7L350.1,107.6L352.0,106.4L353.9,105.3L355.9,104.2L357.8,103.0L359.8,101.8L361.7,100.5L363.6,99.3L365.6,98.0L367.5,96.7L369.5,95.5L371.4,94.2L373.3,93.0L375.3,91.8L377.2,90.5L379.1,89.2L381.1,87.8L383.0,86.4L385.0,84.9L386.9,83.4L388.8,81.8L390.8,80.2L392.7,78.7L394.7,77.1L396.6,75.5L398.5,74.0L400.5,72.4L402.4,70.9L404.4,69.3L406.3,67.8L408.2,66.2L410.2,64.7L412.1,63.1L414.1,61.6L416.0,60.0L417.9,58.5L419.9,56.9L421.8,55.4L423.8,53.8L425.7,52.2L427.6,50.7L429.6,49.1L431.5,47.5L433.4,45.9L435.4,44.4L437.3,42.8L439.3,41.2L441.2,39.6L443.1,38.0L445.1,36.4L447.0,34.8L449.0,33.2L450.9,31.6" fill="none" stroke="none" stroke-width="0"/>
<path d="M65.0,143.9L66.9,143.9L68.9,143.9L70.8,143.9L72.8,143.9L74.7,143.9L76.6,143.9L78.6,143.9L80.5,143.9L82.5,143.9L84.4,143.9L86.3,143.9L88.3,143.9L90.2,143.9L92.1,143.9L94.1,143.9L96.0,143.9L98.0,143.9L99.9,143.9L101.8,143.9L103.8,143.9L105.7,143.9L107.7,143.9L109.6,143.9L111.5,143.9L113.5,143.9L115.4,143.9L117.4,143.9L119.3,143.9L121.2,143.9L123.2,143.8L125.1,143.8L127.1,143.8L129.0,143.8L130.9,143.8L132.9,143.8L134.8,143.8L136.8,143.8L138.7,143.8L140.6,143.8L142.6,143.8L144.5,143.8L146.4,143.8L148.4,143.8L150.3,143.8L152.3,143.8L154.2,143.8L156.1,143.8L158.1,143.8L160.0,143.8L162.0,143.8L163.9,143.8L165.8,143.8L167.8,143.8L169.7,143.7L171.7,143.7L173.6,143.7L175.5,143.7L177.5,143.7L179.4,143.7L181.4,143.7L183.3,143.7L185.2,143.7L187.2,143.7L189.1,143.7L191.0,143.6L193.0,143.6L194.9,143.6L196.9,143.6L198.8,143.6L200.7,143.6L202.7,143.6L204.6,143.5L206.6,143.5L208.5,143.5L210.4,143.5L212.4,143.5L214.3,143.5L216.3,143.5L218.2,143.4L220.1,143.4L222.1,143.4L224.0,143.4L226.0,143.4L227.9,143.3L229.8,143.3L231.8,143.3L233.7,143.3L235.6,143.3L237.6,143.2L239.5,143.2L241.5,143.2L243.4,143.2L245.3,143.1L247.3,143.1L249.2,143.0L251.2,143.0L253.1,142.9L255.0,142.9L257.0,142.8L258.9,142.7L260.9,142.7L262.8,142.6L264.7,142.5L266.7,142.4L268.6,142.4L270.6,142.3L272.5,142.2L274.4,142.1L276.4,142.0L278.3,141.8L280.3,141.7L282.2,141.5L284.1,141.4L286.1,141.2L288.0,141.0L289.9,140.9L291.9,140.7L293.8,140.5L295.8,140.3L297.7,140.0L299.6,139.7L301.6,139.4L303.5,139.1L305.5,138.7L307.4,138.2L309.3,137.7L311.3,137.1L313.2,136.4L315.2,135.5L317.1,134.5L319.0,133.5L321.0,132.6L322.9,131.8L324.9,130.9L326.8,130.1L328.7,129.2L330.7,128.2L332.6,127.2L334.5,126.1L336.5,124.9L338.4,123.7L340.4,122.5L342.3,121.2L344.2,120.0L346.2,118.7L348.1,117.4L350.1,116.0L352.0,114.6L353.9,113.2L355.9,111.8L357.8,110.3L359.8,108.8L361.7,107.2L363.6,105.6L365.6,103.9L367.5,102.3L369.5,100.7L371.4,99.1L373.3,97.5L375.3,95.9L377.2,94.3L379.1,92.8L381.1,91.2L383.0,89.6L385.0,88.1L386.9,86.5L388.8,85.0L390.8,83.4L392.7,81.8L394.7,80.3L396.6,78.7L398.5,77.2L400.5,75.6L402.4,74.1L404.4,72.5L406.3,70.9L408.2,69.4L410.2,67.8L412.1,66.3L414.1,64.7L416.0,63.2L417.9,61.6L419.9,60.0L421.8,58.5L423.8,56.9L425.7,55.4L427.6,53.8L429.6,52.3L431.5,50.7L433.4,49.2L435.4,47.6L437.3,46.1L439.3,44.5L441.2,43.0L443.1,41.4L445.1,39.9L447.0,38.3L449.0,36.8L450.9,35.2" fill="none" stroke="none" stroke-width="0"/>
<path d="M65.0,134.0L66.9,134.0L68.9,134.0L70.8,134.0L72.8,134.0L74.7,134.0L76.6,134.0L78.6,134.0L80.5,134.0L82.5,134.0L84.4,134.0L86.3,134.0L88.3,134.0L90.2,134.0L92.1,134.0L94.1,134.0L96.0,134.0L98.0,134.0L99.9,134.0L101.8,134.0L103.8,134.0L105.7,134.0L107.7,134.0L109.6,134.0L111.5,134.0L113.5,134.0L115.4,134.0L117.4,134.0L119.3,134.0L121.2,134.0L123.2,133.9L125.1,133.9L127.1,133.9L129.0,133.9L130.9,133.9L132.9,133.9L134.8,133.9L136.8,133.9L138.7,133.9L140.6,133.9L142.6,133.9L144.5,133.9L146.4,133.9L148.4,133.9L150.3,133.9L152.3,133.9L154.2,133.9L156.1,133.9L158.1,133.9L160.0,133.9L162.0,133.9L163.9,133.9L165.8,133.8L167.8,133.8L169.7,133.8L171.7,133.8L173.6,133.8L175.5,133.8L177.5,133.8L179.4,133.7L181.4,133.7L183.3,133.7L185.2,133.7L187.2,133.7L189.1,133.7L191.0,133.6L193.0,133.6L194.9,133.6L196.9,133.6L198.8,133.6L200.7,133.5L202.7,133.5L204.6,133.5L206.6,133.5L208.5,133.4L210.4,133.4L212.4,133.4L214.3,133.4L216.3,133.3L218.2,133.3L220.1,133.3L222.1,133.3L224.0,133.2L226.0,133.2L227.9,133.2L229.8,133.2L231.8,133.1L233.7,133.1L235.6,133.1L237.6,133.0L239.5,133.0L241.5,133.0L243.4,132.9L245.3,132.9L247.3,132.9L249.2,132.8L251.2,132.8L253.1,132.7L255.0,132.7L257.0,132.6L258.9,132.6L260.9,132.5L262.8,132.5L264.7,132.4L266.7,132.3L268.6,132.3L270.6,132.2L272.5,132.1L274.4,132.0L276.4,131.9L278.3,131.8L280.3,131.7L282.2,131.6L284.1,131.5L286.1,131.4L288.0,131.2L289.9,131.1L291.9,130.9L293.8,130.6L295.8,130.3L297.7,129.9L299.6,129.5L301.6,129.1L303.5,128.6L305.5,128.1L307.4,127.5L309.3,126.8L311.3,126.2L313.2,125.5L315.2,124.8L317.1,124.1L319.0,123.4L321.0,122.7L322.9,122.0L324.9,121.3L326.8,120.6L328.7,119.8L330.7,119.0L332.6,118.1L334.5,117.0L336.5,115.8L338.4,114.6L340.4,113.4L342.3,112.1L344.2,111.0L346.2,109.8L348.1,108.7L350.1,107.6L352.0,106.4L353.9,105.3L355.9,104.2L357.8,103.0L359.8,101.8L361.7,100.5L363.6,99.3L365.6,98.0L367.5,96.7L369.5,95.5L371.4,94.2L373.3,93.0L375.3,91.8L377.2,90.5L379.1,89.2L381.1,87.8L383.0,86.4L385.0,84.9L386.9,83.4L388.8,81.8L390.8,80.2L392.7,78.7L394.7,77.1L396.6,75.5L398.5,74.0L400.5,72.4L402.4,70.9L404.4,69.3L406.3,67.8L408.2,66.2L410.2,64.7L412.1,63.1L414.1,61.6L416.0,60.0L417.9,58.5L419.9,56.9L421.8,55.4L423.8,53.8L425.7,52.2L427.6,50.7L429.6,49.1L431.5,47.5L433.4,45.9L435.4,44.4L437.3,42.8L439.3,41.2L441.2,39.6L443.1,38.0L445.1,36.4L447.0,34.8L449.0,33.2L450.9,31.6" fill="none" stroke="#FFD200" stroke-width="1.6"/>
<path d="M65.0,134.2L66.9,134.2L68.9,134.2L70.8,134.2L72.8,134.2L74.7,134.2L76.6,134.2L78.6,134.2L80.5,134.2L82.5,134.2L84.4,134.2L86.3,134.2L88.3,134.2L90.2,134.2L92.1,134.2L94.1,134.2L96.0,134.2L98.0,134.2L99.9,134.2L101.8,134.2L103.8,134.3L105.7,134.3L107.7,134.3L109.6,134.3L111.5,134.3L113.5,134.3L115.4,134.3L117.4,134.3L119.3,134.3L121.2,134.3L123.2,134.3L125.1,134.3L127.1,134.3L129.0,134.3L130.9,134.3L132.9,134.3L134.8,134.3L136.8,134.4L138.7,134.4L140.6,134.4L142.6,134.4L144.5,134.4L146.4,134.4L148.4,134.4L150.3,134.4L152.3,134.4L154.2,134.4L156.1,134.4L158.1,134.4L160.0,134.4L162.0,134.5L163.9,134.5L165.8,134.5L167.8,134.5L169.7,134.5L171.7,134.5L173.6,134.5L175.5,134.5L177.5,134.5L179.4,134.5L181.4,134.5L183.3,134.5L185.2,134.5L187.2,134.5L189.1,134.6L191.0,134.6L193.0,134.6L194.9,134.6L196.9,134.6L198.8,134.5L200.7,134.5L202.7,134.5L204.6,134.5L206.6,134.5L208.5,134.5L210.4,134.5L212.4,134.5L214.3,134.5L216.3,134.5L218.2,134.5L220.1,134.5L222.1,134.5L224.0,134.5L226.0,134.5L227.9,134.5L229.8,134.5L231.8,134.4L233.7,134.4L235.6,134.4L237.6,134.4L239.5,134.4L241.5,134.4L243.4,134.4L245.3,134.4L247.3,134.4L249.2,134.3L251.2,134.3L253.1,134.3L255.0,134.3L257.0,134.3L258.9,134.3L260.9,134.2L262.8,134.2L264.7,134.2L266.7,134.3L268.6,134.3L270.6,134.4L272.5,134.4L274.4,134.4L276.4,134.4L278.3,134.3L280.3,134.3L282.2,134.2L284.1,134.1L286.1,134.0L288.0,133.8L289.9,133.6L291.9,133.4L293.8,133.1L295.8,132.7L297.7,132.4L299.6,131.9L301.6,131.5L303.5,131.0L305.5,130.4L307.4,129.8L309.3,129.1L311.3,128.5L313.2,127.8L315.2,127.1L317.1,126.3L319.0,125.6L321.0,124.9L322.9,124.1L324.9,123.4L326.8,122.6L328.7,121.8L330.7,121.0L332.6,120.0L334.5,118.9L336.5,117.6L338.4,116.4L340.4,115.1L342.3,113.8L344.2,112.6L346.2,111.4L348.1,110.2L350.1,109.0L352.0,107.8L353.9,106.6L355.9,105.4L357.8,104.1L359.8,102.8L361.7,101.5L363.6,100.2L365.6,98.8L367.5,97.5L369.5,96.2L371.4,94.9L373.3,93.6L375.3,92.4L377.2,91.1L379.1,89.7L381.1,88.3L383.0,86.8L385.0,85.2L386.9,83.7L388.8,82.1L390.8,80.5L392.7,78.9L394.7,77.4L396.6,75.8L398.5,74.2L400.5,72.6L402.4,71.1L404.4,69.5L406.3,68.0L408.2,66.4L410.2,64.9L412.1,63.3L414.1,61.7L416.0,60.2L417.9,58.6L419.9,57.1L421.8,55.5L423.8,53.9L425.7,52.4L427.6,50.8L429.6,49.2L431.5,47.6L433.4,46.0L435.4,44.5L437.3,42.9L439.3,41.3L441.2,39.7L443.1,38.1L445.1,36.5L447.0,34.9L449.0,33.3L450.9,31.7" fill="none" stroke="#FFD200" stroke-width="1.6"/>
<path d="M65.0,143.7L66.9,143.7L68.9,143.7L70.8,143.7L72.8,143.7L74.7,143.7L76.6,143.7L78.6,143.7L80.5,143.7L82.5,143.7L84.4,143.7L86.3,143.7L88.3,143.7L90.2,143.7L92.1,143.6L94.1,143.6L96.0,143.6L98.0,143.6L99.9,143.6L101.8,143.6L103.8,143.6L105.7,143.6L107.7,143.6L109.6,143.6L111.5,143.6L113.5,143.5L115.4,143.5L117.4,143.5L119.3,143.5L121.2,143.5L123.2,143.5L125.1,143.5L127.1,143.5L129.0,143.5L130.9,143.4L132.9,143.4L134.8,143.4L136.8,143.4L138.7,143.4L140.6,143.4L142.6,143.4L144.5,143.3L146.4,143.3L148.4,143.3L150.3,143.3L152.3,143.3L154.2,143.3L156.1,143.2L158.1,143.2L160.0,143.2L162.0,143.2L163.9,143.2L165.8,143.1L167.8,143.1L169.7,143.1L171.7,143.0L173.6,143.0L175.5,143.0L177.5,142.9L179.4,142.9L181.4,142.9L183.3,142.9L185.2,142.8L187.2,142.8L189.1,142.8L191.0,142.7L193.0,142.7L194.9,142.7L196.9,142.6L198.8,142.6L200.7,142.6L202.7,142.5L204.6,142.5L206.6,142.5L208.5,142.4L210.4,142.4L212.4,142.4L214.3,142.3L216.3,142.3L218.2,142.3L220.1,142.2L222.1,142.2L224.0,142.1L226.0,142.1L227.9,142.1L229.8,142.0L231.8,142.0L233.7,141.9L235.6,141.9L237.6,141.8L239.5,141.8L241.5,141.8L243.4,141.7L245.3,141.6L247.3,141.6L249.2,141.5L251.2,141.4L253.1,141.3L255.0,141.3L257.0,141.2L258.9,141.1L260.9,140.9L262.8,140.8L264.7,140.7L266.7,140.5L268.6,140.3L270.6,140.1L272.5,139.9L274.4,139.7L276.4,139.5L278.3,139.3L280.3,139.1L282.2,138.9L284.1,138.8L286.1,138.6L288.0,138.5L289.9,138.3L291.9,138.2L293.8,138.0L295.8,137.8L297.7,137.6L299.6,137.3L301.6,137.1L303.5,136.7L305.5,136.3L307.4,135.8L309.3,135.3L311.3,134.8L313.2,134.1L315.2,133.2L317.1,132.2L319.0,131.3L321.0,130.5L322.9,129.6L324.9,128.8L326.8,128.0L328.7,127.1L330.7,126.2L332.6,125.2L334.5,124.2L336.5,123.1L338.4,121.9L340.4,120.8L342.3,119.6L344.2,118.3L346.2,117.1L348.1,115.8L350.1,114.6L352.0,113.3L353.9,111.9L355.9,110.6L357.8,109.2L359.8,107.7L361.7,106.2L363.6,104.7L365.6,103.1L367.5,101.5L369.5,100.0L371.4,98.4L373.3,96.9L375.3,95.3L377.2,93.8L379.1,92.3L381.1,90.8L383.0,89.2L385.0,87.7L386.9,86.2L388.8,84.6L390.8,83.1L392.7,81.6L394.7,80.0L396.6,78.5L398.5,77.0L400.5,75.4L402.4,73.9L404.4,72.3L406.3,70.8L408.2,69.2L410.2,67.7L412.1,66.1L414.1,64.6L416.0,63.0L417.9,61.5L419.9,59.9L421.8,58.4L423.8,56.8L425.7,55.3L427.6,53.7L429.6,52.2L431.5,50.6L433.4,49.1L435.4,47.5L437.3,46.0L439.3,44.4L441.2,42.9L443.1,41.3L445.1,39.8L447.0,38.2L449.0,36.7L450.9,35.1" fill="none" stroke="#FFD200" stroke-width="1.6"/>
<path d="M65.0,143.9L66.9,143.9L68.9,143.9L70.8,143.9L72.8,143.9L74.7,143.9L76.6,143.9L78.6,143.9L80.5,143.9L82.5,143.9L84.4,143.9L86.3,143.9L88.3,143.9L90.2,143.9L92.1,143.9L94.1,143.9L96.0,143.9L98.0,143.9L99.9,143.9L101.8,143.9L103.8,143.9L105.7,143.9L107.7,143.9L109.6,143.9L111.5,143.9L113.5,143.9L115.4,143.9L117.4,143.9L119.3,143.9L121.2,143.9L123.2,143.8L125.1,143.8L127.1,143.8L129.0,143.8L130.9,143.8L132.9,143.8L134.8,143.8L136.8,143.8L138.7,143.8L140.6,143.8L142.6,143.8L144.5,143.8L146.4,143.8L148.4,143.8L150.3,143.8L152.3,143.8L154.2,143.8L156.1,143.8L158.1,143.8L160.0,143.8L162.0,143.8L163.9,143.8L165.8,143.8L167.8,143.8L169.7,143.7L171.7,143.7L173.6,143.7L175.5,143.7L177.5,143.7L179.4,143.7L181.4,143.7L183.3,143.7L185.2,143.7L187.2,143.7L189.1,143.7L191.0,143.6L193.0,143.6L194.9,143.6L196.9,143.6L198.8,143.6L200.7,143.6L202.7,143.6L204.6,143.5L206.6,143.5L208.5,143.5L210.4,143.5L212.4,143.5L214.3,143.5L216.3,143.5L218.2,143.4L220.1,143.4L222.1,143.4L224.0,143.4L226.0,143.4L227.9,143.3L229.8,143.3L231.8,143.3L233.7,143.3L235.6,143.3L237.6,143.2L239.5,143.2L241.5,143.2L243.4,143.2L245.3,143.1L247.3,143.1L249.2,143.0L251.2,143.0L253.1,142.9L255.0,142.9L257.0,142.8L258.9,142.7L260.9,142.7L262.8,142.6L264.7,142.5L266.7,142.4L268.6,142.4L270.6,142.3L272.5,142.2L274.4,142.1L276.4,142.0L278.3,141.8L280.3,141.7L282.2,141.5L284.1,141.4L286.1,141.2L288.0,141.0L289.9,140.9L291.9,140.7L293.8,140.5L295.8,140.3L297.7,140.0L299.6,139.7L301.6,139.4L303.5,139.1L305.5,138.7L307.4,138.2L309.3,137.7L311.3,137.1L313.2,136.4L315.2,135.5L317.1,134.5L319.0,133.5L321.0,132.6L322.9,131.8L324.9,130.9L326.8,130.1L328.7,129.2L330.7,128.2L332.6,127.2L334.5,126.1L336.5,124.9L338.4,123.7L340.4,122.5L342.3,121.2L344.2,120.0L346.2,118.7L348.1,117.4L350.1,116.0L352.0,114.6L353.9,113.2L355.9,111.8L357.8,110.3L359.8,108.8L361.7,107.2L363.6,105.6L365.6,103.9L367.5,102.3L369.5,100.7L371.4,99.1L373.3,97.5L375.3,95.9L377.2,94.3L379.1,92.8L381.1,91.2L383.0,89.6L385.0,88.1L386.9,86.5L388.8,85.0L390.8,83.4L392.7,81.8L394.7,80.3L396.6,78.7L398.5,77.2L400.5,75.6L402.4,74.1L404.4,72.5L406.3,70.9L408.2,69.4L410.2,67.8L412.1,66.3L414.1,64.7L416.0,63.2L417.9,61.6L419.9,60.0L421.8,58.5L423.8,56.9L425.7,55.4L427.6,53.8L429.6,52.3L431.5,50.7L433.4,49.2L435.4,47.6L437.3,46.1L439.3,44.5L441.2,43.0L443.1,41.4L445.1,39.9L447.0,38.3L449.0,36.8L450.9,35.2" fill="none" stroke="#FFD200" stroke-width="1.6"/>
<path d="M65.0,115.1L66.9,115.1L68.9,115.1L70.8,115.1L72.8,115.1L74.7,115.1L76.6,115.1L78.6,115.1L80.5,115.1L82.5,115.1L84.4,115.1L86.3,115.1L88.3,115.1L90.2,115.1L92.1,115.1L94.1,115.1L96.0,115.1L98.0,115.1L99.9,115.1L101.8,115.1L103.8,115.1L105.7,115.1L107.7,115.1L109.6,115.1L111.5,115.0L113.5,115.0L115.4,115.0L117.4,115.0L119.3,115.0L121.2,115.0L123.2,115.0L125.1,115.0L127.1,115.0L129.0,115.0L130.9,115.0L132.9,115.0L134.8,115.0L136.8,115.0L138.7,115.0L140.6,115.0L142.6,115.0L144.5,115.0L146.4,115.0L148.4,115.0L150.3,115.0L152.3,115.0L154.2,115.0L156.1,115.0L158.1,115.0L160.0,115.0L162.0,115.0L163.9,115.0L165.8,115.0L167.8,115.0L169.7,115.0L171.7,114.9L173.6,114.9L175.5,114.9L177.5,114.9L179.4,114.9L181.4,114.9L183.3,114.9L185.2,114.9L187.2,114.9L189.1,114.9L191.0,114.9L193.0,114.9L194.9,114.9L196.9,114.9L198.8,114.9L200.7,114.9L202.7,114.9L204.6,114.8L206.6,114.8L208.5,114.8L210.4,114.8L212.4,114.8L214.3,114.8L216.3,114.8L218.2,114.8L220.1,114.8L222.1,114.8L224.0,114.8L226.0,114.8L227.9,114.8L229.8,114.7L231.8,114.7L233.7,114.7L235.6,114.7L237.6,114.7L239.5,114.7L241.5,114.7L243.4,114.7L245.3,114.6L247.3,114.6L249.2,114.5L251.2,114.5L253.1,114.4L255.0,114.3L257.0,114.3L258.9,114.2L260.9,114.1L262.8,113.9L264.7,113.8L266.7,113.7L268.6,113.6L270.6,113.4L272.5,113.3L274.4,113.1L276.4,112.9L278.3,112.8L280.3,112.6L282.2,112.4L284.1,112.2L286.1,112.0L288.0,111.8L289.9,111.6L291.9,111.4L293.8,111.2L295.8,111.0L297.7,110.7L299.6,110.5L301.6,110.2L303.5,109.9L305.5,109.5L307.4,109.1L309.3,108.6L311.3,108.1L313.2,107.6L315.2,107.0L317.1,106.4L319.0,105.7L321.0,105.1L322.9,104.4L324.9,103.6L326.8,102.8L328.7,101.9L330.7,100.9L332.6,99.9L334.5,98.9L336.5,97.8L338.4,96.8L340.4,95.7L342.3,94.6L344.2,93.4L346.2,92.3L348.1,91.1L350.1,89.9L352.0,88.7L353.9,87.4L355.9,86.0L357.8,84.7L359.8,83.3L361.7,81.9L363.6,80.5L365.6,79.1L367.5,77.7L369.5,76.4L371.4,75.0L373.3,73.6L375.3,72.2L377.2,70.8L379.1,69.3L381.1,67.9L383.0,66.5L385.0,65.0L386.9,63.6L388.8,62.1L390.8,60.6L392.7,59.2L394.7,57.7L396.6,56.2L398.5,54.7L400.5,53.3L402.4,51.8L404.4,50.3L406.3,48.8L408.2,47.3L410.2,45.8L412.1,44.3L414.1,42.8L416.0,41.3L417.9,39.8L419.9,38.3L421.8,36.8L423.8,35.2L425.7,33.7L427.6,32.2L429.6,30.7L431.5,29.1L433.4,27.6L435.4,26.0L437.3,24.5L439.3,23.0L441.2,21.4L443.1,19.8L445.1,18.3L447.0,16.7L449.0,15.1L450.9,13.6" fill="none" stroke="#00F0FF" stroke-width="1.3"/>
<path d="M65.0,115.9L66.9,115.9L68.9,115.9L70.8,115.9L72.8,115.9L74.7,115.9L76.6,115.9L78.6,115.9L80.5,115.9L82.5,115.9L84.4,115.9L86.3,115.9L88.3,115.9L90.2,115.9L92.1,115.9L94.1,115.9L96.0,115.9L98.0,115.9L99.9,115.9L101.8,115.9L103.8,115.9L105.7,115.9L107.7,115.9L109.6,115.9L111.5,115.8L113.5,115.8L115.4,115.8L117.4,115.8L119.3,115.8L121.2,115.8L123.2,115.8L125.1,115.8L127.1,115.8L129.0,115.8L130.9,115.8L132.9,115.8L134.8,115.8L136.8,115.8L138.7,115.8L140.6,115.8L142.6,115.8L144.5,115.8L146.4,115.8L148.4,115.8L150.3,115.8L152.3,115.8L154.2,115.8L156.1,115.8L158.1,115.8L160.0,115.8L162.0,115.8L163.9,115.8L165.8,115.8L167.8,115.8L169.7,115.8L171.7,115.7L173.6,115.7L175.5,115.7L177.5,115.7L179.4,115.7L181.4,115.7L183.3,115.7L185.2,115.7L187.2,115.7L189.1,115.7L191.0,115.7L193.0,115.7L194.9,115.7L196.9,115.7L198.8,115.7L200.7,115.7L202.7,115.7L204.6,115.6L206.6,115.6L208.5,115.6L210.4,115.6L212.4,115.6L214.3,115.6L216.3,115.6L218.2,115.6L220.1,115.6L222.1,115.6L224.0,115.6L226.0,115.6L227.9,115.6L229.8,115.5L231.8,115.5L233.7,115.5L235.6,115.5L237.6,115.5L239.5,115.5L241.5,115.5L243.4,115.5L245.3,115.4L247.3,115.4L249.2,115.3L251.2,115.3L253.1,115.2L255.0,115.1L257.0,115.0L258.9,114.9L260.9,114.8L262.8,114.7L264.7,114.6L266.7,114.5L268.6,114.3L270.6,114.2L272.5,114.0L274.4,113.9L276.4,113.7L278.3,113.5L280.3,113.4L282.2,113.2L284.1,113.0L286.1,112.8L288.0,112.6L289.9,112.4L291.9,112.2L293.8,112.0L295.8,111.7L297.7,111.5L299.6,111.3L301.6,111.0L303.5,110.8L305.5,110.4L307.4,110.0L309.3,109.6L311.3,109.2L313.2,108.7L315.2,108.1L317.1,107.6L319.0,107.0L321.0,106.4L322.9,105.7L324.9,105.0L326.8,104.1L328.7,103.2L330.7,102.3L332.6,101.3L334.5,100.3L336.5,99.2L338.4,98.1L340.4,97.0L342.3,95.9L344.2,94.7L346.2,93.6L348.1,92.4L350.1,91.2L352.0,90.0L353.9,88.7L355.9,87.4L357.8,86.0L359.8,84.7L361.7,83.3L363.6,81.9L365.6,80.5L367.5,79.1L369.5,77.7L371.4,76.2L373.3,74.8L375.3,73.3L377.2,71.9L379.1,70.4L381.1,68.8L383.0,67.3L385.0,65.8L386.9,64.2L388.8,62.7L390.8,61.1L392.7,59.6L394.7,58.0L396.6,56.5L398.5,55.0L400.5,53.4L402.4,51.9L404.4,50.4L406.3,48.9L408.2,47.4L410.2,45.8L412.1,44.3L414.1,42.8L416.0,41.3L417.9,39.7L419.9,38.2L421.8,36.7L423.8,35.2L425.7,33.6L427.6,32.1L429.6,30.6L431.5,29.1L433.4,27.5L435.4,26.0L437.3,24.5L439.3,23.0L441.2,21.4L443.1,19.9L445.1,18.4L447.0,16.8L449.0,15.3L450.9,13.8" fill="none" stroke="#00F0FF" stroke-width="1.3"/>
<path d="M65.0,197.3L66.9,197.3L68.9,197.3L70.8,197.4L72.8,197.4L74.7,197.4L76.6,197.4L78.6,197.5L80.5,197.5L82.5,197.5L84.4,197.6L86.3,197.6L88.3,197.6L90.2,197.7L92.1,197.7L94.1,197.8L96.0,197.8L98.0,197.9L99.9,197.9L101.8,197.9L103.8,198.0L105.7,198.0L107.7,198.1L109.6,198.2L111.5,198.2L113.5,198.3L115.4,198.3L117.4,198.4L119.3,198.5L121.2,198.6L123.2,198.6L125.1,198.7L127.1,198.8L129.0,198.9L130.9,198.9L132.9,199.0L134.8,199.1L136.8,199.2L138.7,199.3L140.6,199.4L142.6,199.5L144.5,199.6L146.4,199.7L148.4,199.9L150.3,200.1L152.3,200.3L154.2,200.5L156.1,200.7L158.1,201.0L160.0,201.2L162.0,201.4L163.9,201.7L165.8,202.0L167.8,202.3L169.7,202.6L171.7,202.9L173.6,203.2L175.5,203.5L177.5,203.8L179.4,204.2L181.4,204.5L183.3,204.9L185.2,205.3L187.2,205.6L189.1,206.0L191.0,206.4L193.0,206.8L194.9,207.2L196.9,207.7L198.8,208.1L200.7,208.6L202.7,209.0L204.6,209.4L206.6,209.9L208.5,210.3L210.4,210.7L212.4,211.0L214.3,211.4L216.3,211.7L218.2,212.0L220.1,212.4L222.1,212.7L224.0,213.0L226.0,213.3L227.9,213.5L229.8,213.7L231.8,213.8L233.7,213.8L235.6,213.6L237.6,213.4L239.5,213.1L241.5,212.1L243.4,210.5L245.3,208.8L247.3,207.0L249.2,205.2L251.2,203.6L253.1,202.0L255.0,200.4L257.0,198.6L258.9,196.7L260.9,194.7L262.8,192.7L264.7,190.6L266.7,188.7L268.6,186.8L270.6,185.1L272.5,183.3L274.4,181.6L276.4,179.9L278.3,178.2L280.3,176.5L282.2,174.8L284.1,173.1L286.1,171.4L288.0,169.7L289.9,168.0L291.9,166.3L293.8,164.7L295.8,163.0L297.7,161.3L299.6,159.7L301.6,158.1L303.5,156.5L305.5,154.9L307.4,153.4L309.3,152.0L311.3,150.7L313.2,149.4L315.2,147.9L317.1,146.3L319.0,144.3L321.0,141.5L322.9,139.5L324.9,137.9L326.8,136.6L328.7,135.2L330.7,133.8L332.6,132.2L334.5,130.6L336.5,128.9L338.4,127.2L340.4,125.6L342.3,123.9L344.2,122.3L346.2,120.6L348.1,119.0L350.1,117.3L352.0,115.7L353.9,114.0L355.9,112.4L357.8,110.8L359.8,109.1L361.7,107.5L363.6,105.8L365.6,104.2L367.5,102.6L369.5,101.0L371.4,99.4L373.3,97.8L375.3,96.2L377.2,94.6L379.1,93.1L381.1,91.5L383.0,89.9L385.0,88.4L386.9,86.8L388.8,85.2L390.8,83.7L392.7,82.1L394.7,80.5L396.6,79.0L398.5,77.4L400.5,75.8L402.4,74.3L404.4,72.7L406.3,71.2L408.2,69.6L410.2,68.0L412.1,66.5L414.1,64.9L416.0,63.3L417.9,61.8L419.9,60.2L421.8,58.7L423.8,57.1L425.7,55.6L427.6,54.0L429.6,52.4L431.5,50.9L433.4,49.3L435.4,47.8L437.3,46.2L439.3,44.7L441.2,43.1L443.1,41.6L445.1,40.0L447.0,38.5L449.0,36.9L450.9,35.4" fill="none" stroke="#0000FF" stroke-width="1.9"/>
<path d="M65.0,204.6L66.9,204.6L68.9,204.7L70.8,204.7L72.8,204.7L74.7,204.8L76.6,204.8L78.6,204.9L80.5,204.9L82.5,205.0L84.4,205.0L86.3,205.1L88.3,205.1L90.2,205.2L92.1,205.2L94.1,205.3L96.0,205.4L98.0,205.4L99.9,205.5L101.8,205.6L103.8,205.6L105.7,205.7L107.7,205.8L109.6,205.9L111.5,205.9L113.5,206.0L115.4,206.1L117.4,206.2L119.3,206.3L121.2,206.4L123.2,206.5L125.1,206.6L127.1,206.7L129.0,206.8L130.9,207.0L132.9,207.1L134.8,207.2L136.8,207.4L138.7,207.6L140.6,207.7L142.6,207.9L144.5,208.1L146.4,208.3L148.4,208.5L150.3,208.7L152.3,208.9L154.2,209.1L156.1,209.4L158.1,209.6L160.0,209.9L162.0,210.2L163.9,210.6L165.8,210.9L167.8,211.3L169.7,211.7L171.7,212.2L173.6,212.6L175.5,213.2L177.5,213.7L179.4,214.4L181.4,215.0L183.3,215.6L185.2,216.2L187.2,216.9L189.1,217.5L191.0,218.1L193.0,218.8L194.9,219.4L196.9,220.0L198.8,220.6L200.7,221.2L202.7,221.8L204.6,222.3L206.6,222.7L208.5,223.2L210.4,223.6L212.4,223.9L214.3,224.3L216.3,224.6L218.2,225.0L220.1,225.2L222.1,225.3L224.0,225.2L226.0,224.9L227.9,224.4L229.8,223.5L231.8,222.4L233.7,221.1L235.6,219.8L237.6,218.6L239.5,217.4L241.5,216.2L243.4,215.0L245.3,213.8L247.3,212.5L249.2,211.2L251.2,209.7L253.1,208.2L255.0,206.7L257.0,205.0L258.9,203.3L260.9,201.5L262.8,199.6L264.7,197.7L266.7,195.9L268.6,194.0L270.6,192.2L272.5,190.4L274.4,188.5L276.4,186.7L278.3,184.9L280.3,183.1L282.2,181.3L284.1,179.6L286.1,177.8L288.0,176.1L289.9,174.3L291.9,172.6L293.8,170.9L295.8,169.1L297.7,167.4L299.6,165.7L301.6,163.9L303.5,162.2L305.5,160.5L307.4,158.8L309.3,157.0L311.3,155.3L313.2,153.5L315.2,151.8L317.1,150.2L319.0,148.6L321.0,147.1L322.9,145.7L324.9,144.3L326.8,142.9L328.7,141.6L330.7,140.3L332.6,139.0L334.5,137.6L336.5,136.2L338.4,134.8L340.4,133.3L342.3,131.9L344.2,130.4L346.2,128.8L348.1,127.3L350.1,125.8L352.0,124.2L353.9,122.7L355.9,121.1L357.8,119.6L359.8,118.0L361.7,116.5L363.6,114.9L365.6,113.3L367.5,111.7L369.5,110.2L371.4,108.6L373.3,107.0L375.3,105.4L377.2,103.8L379.1,102.3L381.1,100.7L383.0,99.1L385.0,97.6L386.9,96.0L388.8,94.4L390.8,92.9L392.7,91.3L394.7,89.7L396.6,88.2L398.5,86.6L400.5,85.0L402.4,83.5L404.4,81.9L406.3,80.4L408.2,78.8L410.2,77.2L412.1,75.7L414.1,74.1L416.0,72.6L417.9,71.0L419.9,69.4L421.8,67.9L423.8,66.3L425.7,64.8L427.6,63.2L429.6,61.7L431.5,60.1L433.4,58.6L435.4,57.0L437.3,55.4L439.3,53.9L441.2,52.3L443.1,50.8L445.1,49.2L447.0,47.7L449.0,46.1L450.9,44.6" fill="none" stroke="#0000FF" stroke-width="1.9"/>
<path d="M65.0,219.9L66.9,220.0L68.9,220.2L70.8,220.3L72.8,220.4L74.7,220.6L76.6,220.7L78.6,220.8L80.5,220.9L82.5,221.0L84.4,221.1L86.3,221.3L88.3,221.4L90.2,221.4L92.1,221.5L94.1,221.6L96.0,221.7L98.0,221.8L99.9,221.8L101.8,221.9L103.8,221.9L105.7,222.0L107.7,222.0L109.6,222.1L111.5,222.1L113.5,222.2L115.4,222.2L117.4,222.3L119.3,222.3L121.2,222.4L123.2,222.4L125.1,222.5L127.1,222.6L129.0,222.7L130.9,222.7L132.9,222.9L134.8,223.0L136.8,223.2L138.7,223.4L140.6,223.7L142.6,223.9L144.5,224.1L146.4,224.3L148.4,224.5L150.3,224.8L152.3,225.0L154.2,225.2L156.1,225.5L158.1,225.8L160.0,226.0L162.0,226.3L163.9,226.6L165.8,226.9L167.8,227.2L169.7,227.5L171.7,227.8L173.6,228.0L175.5,228.2L177.5,228.4L179.4,228.6L181.4,228.8L183.3,228.9L185.2,229.0L187.2,229.0L189.1,228.8L191.0,228.6L193.0,227.9L194.9,226.8L196.9,226.0L198.8,225.1L200.7,224.2L202.7,223.3L204.6,222.3L206.6,221.3L208.5,220.2L210.4,219.0L212.4,217.8L214.3,216.5L216.3,215.1L218.2,213.7L220.1,212.3L222.1,210.7L224.0,209.1L226.0,207.5L227.9,205.9L229.8,204.2L231.8,202.5L233.7,200.9L235.6,199.5L237.6,198.0L239.5,196.6L241.5,195.2L243.4,193.8L245.3,192.3L247.3,190.9L249.2,189.4L251.2,188.0L253.1,186.5L255.0,185.0L257.0,183.6L258.9,182.1L260.9,180.7L262.8,179.2L264.7,177.8L266.7,176.3L268.6,174.9L270.6,173.4L272.5,172.0L274.4,170.6L276.4,169.1L278.3,167.7L280.3,166.2L282.2,164.7L284.1,163.2L286.1,161.6L288.0,159.9L289.9,158.3L291.9,156.6L293.8,155.1L295.8,153.6L297.7,152.1L299.6,150.6L301.6,149.2L303.5,147.9L305.5,146.5L307.4,145.2L309.3,144.0L311.3,142.8L313.2,141.6L315.2,140.4L317.1,139.2L319.0,137.9L321.0,136.6L322.9,135.4L324.9,134.1L326.8,132.8L328.7,131.4L330.7,130.1L332.6,128.6L334.5,127.1L336.5,125.6L338.4,124.0L340.4,122.4L342.3,120.8L344.2,119.2L346.2,117.6L348.1,115.9L350.1,114.3L352.0,112.6L353.9,110.9L355.9,109.2L357.8,107.6L359.8,105.9L361.7,104.3L363.6,102.6L365.6,101.0L367.5,99.4L369.5,97.8L371.4,96.2L373.3,94.6L375.3,93.0L377.2,91.4L379.1,89.9L381.1,88.3L383.0,86.7L385.0,85.1L386.9,83.6L388.8,82.0L390.8,80.4L392.7,78.8L394.7,77.3L396.6,75.7L398.5,74.1L400.5,72.5L402.4,71.0L404.4,69.4L406.3,67.8L408.2,66.3L410.2,64.7L412.1,63.1L414.1,61.5L416.0,60.0L417.9,58.4L419.9,56.8L421.8,55.2L423.8,53.7L425.7,52.1L427.6,50.5L429.6,48.9L431.5,47.4L433.4,45.8L435.4,44.2L437.3,42.6L439.3,41.1L441.2,39.5L443.1,37.9L445.1,36.3L447.0,34.8L449.0,33.2L450.9,31.6" fill="none" stroke="#A0622D" stroke-width="1.9"/>
<path d="M65.0,233.2L66.9,233.2L68.9,233.3L70.8,233.3L72.8,233.4L74.7,233.4L76.6,233.5L78.6,233.5L80.5,233.5L82.5,233.6L84.4,233.6L86.3,233.7L88.3,233.7L90.2,233.8L92.1,233.8L94.1,233.9L96.0,233.9L98.0,234.0L99.9,234.0L101.8,234.0L103.8,234.1L105.7,234.1L107.7,234.2L109.6,234.2L111.5,234.2L113.5,234.3L115.4,234.3L117.4,234.4L119.3,234.4L121.2,234.5L123.2,234.5L125.1,234.6L127.1,234.6L129.0,234.7L130.9,234.7L132.9,234.8L134.8,234.9L136.8,235.0L138.7,235.1L140.6,235.2L142.6,235.3L144.5,235.4L146.4,235.5L148.4,235.6L150.3,235.7L152.3,235.9L154.2,236.0L156.1,236.0L158.1,236.1L160.0,236.1L162.0,236.1L163.9,236.1L165.8,236.1L167.8,236.1L169.7,236.1L171.7,236.1L173.6,236.1L175.5,236.0L177.5,235.9L179.4,235.6L181.4,235.4L183.3,235.0L185.2,234.6L187.2,234.2L189.1,233.6L191.0,233.1L193.0,232.5L194.9,231.8L196.9,231.1L198.8,230.4L200.7,229.6L202.7,228.8L204.6,228.0L206.6,227.2L208.5,226.4L210.4,225.6L212.4,224.7L214.3,223.8L216.3,222.9L218.2,222.0L220.1,221.0L222.1,220.1L224.0,219.1L226.0,218.0L227.9,216.8L229.8,215.5L231.8,214.1L233.7,212.6L235.6,211.2L237.6,209.7L239.5,208.3L241.5,206.8L243.4,205.4L245.3,203.9L247.3,202.5L249.2,201.0L251.2,199.5L253.1,198.0L255.0,196.5L257.0,194.9L258.9,193.3L260.9,191.6L262.8,189.9L264.7,188.2L266.7,186.6L268.6,184.9L270.6,183.3L272.5,181.6L274.4,180.0L276.4,178.3L278.3,176.7L280.3,175.0L282.2,173.3L284.1,171.6L286.1,169.9L288.0,168.2L289.9,166.5L291.9,164.8L293.8,163.1L295.8,161.4L297.7,159.7L299.6,158.0L301.6,156.4L303.5,154.8L305.5,153.2L307.4,151.6L309.3,149.9L311.3,148.2L313.2,146.6L315.2,145.1L317.1,143.8L319.0,142.7L321.0,141.9L322.9,141.2L324.9,140.6L326.8,140.0L328.7,139.2L330.7,138.4L332.6,137.6L334.5,136.7L336.5,135.7L338.4,134.6L340.4,133.4L342.3,132.0L344.2,130.6L346.2,129.0L348.1,127.4L350.1,125.7L352.0,124.1L353.9,122.4L355.9,120.8L357.8,119.2L359.8,117.6L361.7,116.1L363.6,114.5L365.6,112.9L367.5,111.3L369.5,109.8L371.4,108.2L373.3,106.6L375.3,105.0L377.2,103.4L379.1,101.9L381.1,100.3L383.0,98.7L385.0,97.2L386.9,95.6L388.8,94.0L390.8,92.5L392.7,90.9L394.7,89.3L396.6,87.8L398.5,86.2L400.5,84.6L402.4,83.1L404.4,81.5L406.3,80.0L408.2,78.4L410.2,76.8L412.1,75.3L414.1,73.7L416.0,72.2L417.9,70.6L419.9,69.0L421.8,67.5L423.8,65.9L425.7,64.4L427.6,62.8L429.6,61.3L431.5,59.7L433.4,58.2L435.4,56.6L437.3,55.0L439.3,53.5L441.2,51.9L443.1,50.4L445.1,48.8L447.0,47.3L449.0,45.7L450.9,44.2" fill="none" stroke="#A0622D" stroke-width="1.9"/>
<path d="M65.0,218.7L66.9,218.7L68.9,218.6L70.8,218.6L72.8,218.5L74.7,218.5L76.6,218.5L78.6,218.4L80.5,218.4L82.5,218.3L84.4,218.3L86.3,218.2L88.3,218.2L90.2,218.1L92.1,218.0L94.1,218.0L96.0,217.9L98.0,217.9L99.9,217.8L101.8,217.7L103.8,217.7L105.7,217.6L107.7,217.6L109.6,217.5L111.5,217.4L113.5,217.4L115.4,217.3L117.4,217.2L119.3,217.2L121.2,217.1L123.2,217.0L125.1,216.9L127.1,216.8L129.0,216.7L130.9,216.5L132.9,216.4L134.8,216.2L136.8,216.0L138.7,215.6L140.6,215.3L142.6,214.9L144.5,214.6L146.4,214.3L148.4,214.0L150.3,213.7L152.3,213.4L154.2,213.1L156.1,212.7L158.1,212.4L160.0,212.0L162.0,211.7L163.9,211.3L165.8,210.9L167.8,210.5L169.7,210.1L171.7,209.6L173.6,209.1L175.5,208.7L177.5,208.2L179.4,207.7L181.4,207.1L183.3,206.6L185.2,206.0L187.2,205.4L189.1,204.8L191.0,204.1L193.0,203.5L194.9,202.7L196.9,202.0L198.8,201.2L200.7,200.4L202.7,199.6L204.6,198.7L206.6,197.9L208.5,197.0L210.4,196.1L212.4,195.1L214.3,194.2L216.3,193.2L218.2,192.2L220.1,191.2L222.1,190.1L224.0,189.0L226.0,187.9L227.9,186.9L229.8,185.8L231.8,184.7L233.7,183.6L235.6,182.5L237.6,181.3L239.5,180.2L241.5,179.1L243.4,177.9L245.3,176.7L247.3,175.6L249.2,174.4L251.2,173.2L253.1,171.9L255.0,170.6L257.0,169.2L258.9,167.7L260.9,166.1L262.8,164.5L264.7,162.9L266.7,161.2L268.6,159.6L270.6,158.1L272.5,156.6L274.4,155.0L276.4,153.5L278.3,152.1L280.3,150.6L282.2,149.1L284.1,147.6L286.1,146.2L288.0,144.7L289.9,143.3L291.9,141.8L293.8,140.4L295.8,138.9L297.7,137.5L299.6,136.0L301.6,134.5L303.5,133.1L305.5,131.6L307.4,130.1L309.3,128.6L311.3,127.2L313.2,125.7L315.2,124.2L317.1,122.7L319.0,121.2L321.0,119.7L322.9,118.2L324.9,116.7L326.8,115.1L328.7,113.6L330.7,112.1L332.6,110.6L334.5,109.0L336.5,107.5L338.4,106.0L340.4,104.4L342.3,102.9L344.2,101.3L346.2,99.8L348.1,98.2L350.1,96.7L352.0,95.1L353.9,93.6L355.9,92.0L357.8,90.5L359.8,88.9L361.7,87.4L363.6,85.8L365.6,84.3L367.5,82.7L369.5,81.2L371.4,79.6L373.3,78.0L375.3,76.5L377.2,74.9L379.1,73.4L381.1,71.8L383.0,70.3L385.0,68.7L386.9,67.2L388.8,65.6L390.8,64.1L392.7,62.5L394.7,61.0L396.6,59.5L398.5,57.9L400.5,56.4L402.4,54.8L404.4,53.3L406.3,51.7L408.2,50.2L410.2,48.6L412.1,47.1L414.1,45.5L416.0,44.0L417.9,42.4L419.9,40.9L421.8,39.3L423.8,37.7L425.7,36.2L427.6,34.6L429.6,33.1L431.5,31.5L433.4,30.0L435.4,28.4L437.3,26.9L439.3,25.3L441.2,23.8L443.1,22.2L445.1,20.7L447.0,19.1L449.0,17.6L450.9,16.0" fill="none" stroke="#FF00D0" stroke-width="1.9"/>
<path d="M65.0,231.7L66.9,231.7L68.9,231.7L70.8,231.7L72.8,231.7L74.7,231.6L76.6,231.6L78.6,231.6L80.5,231.5L82.5,231.5L84.4,231.5L86.3,231.4L88.3,231.4L90.2,231.3L92.1,231.3L94.1,231.2L96.0,231.2L98.0,231.1L99.9,231.1L101.8,231.0L103.8,230.9L105.7,230.8L107.7,230.7L109.6,230.6L111.5,230.5L113.5,230.3L115.4,230.2L117.4,230.0L119.3,229.9L121.2,229.7L123.2,229.6L125.1,229.4L127.1,229.3L129.0,229.1L130.9,228.9L132.9,228.7L134.8,228.5L136.8,228.3L138.7,228.1L140.6,227.8L142.6,227.6L144.5,227.3L146.4,227.0L148.4,226.7L150.3,226.4L152.3,226.1L154.2,225.7L156.1,225.3L158.1,224.9L160.0,224.5L162.0,224.1L163.9,223.6L165.8,223.1L167.8,222.6L169.7,222.0L171.7,221.5L173.6,220.9L175.5,220.2L177.5,219.5L179.4,218.8L181.4,218.0L183.3,217.2L185.2,216.3L187.2,215.5L189.1,214.6L191.0,213.7L193.0,212.8L194.9,211.9L196.9,210.9L198.8,209.9L200.7,208.9L202.7,207.8L204.6,206.7L206.6,205.6L208.5,204.5L210.4,203.3L212.4,202.1L214.3,200.9L216.3,199.6L218.2,198.4L220.1,197.1L222.1,195.7L224.0,194.4L226.0,193.0L227.9,191.7L229.8,190.3L231.8,189.0L233.7,187.6L235.6,186.3L237.6,184.9L239.5,183.6L241.5,182.2L243.4,180.8L245.3,179.3L247.3,177.8L249.2,176.3L251.2,174.8L253.1,173.3L255.0,171.7L257.0,170.2L258.9,168.6L260.9,167.0L262.8,165.4L264.7,163.8L266.7,162.2L268.6,160.6L270.6,159.1L272.5,157.6L274.4,156.1L276.4,154.6L278.3,153.1L280.3,151.7L282.2,150.2L284.1,148.7L286.1,147.3L288.0,145.8L289.9,144.4L291.9,142.9L293.8,141.5L295.8,140.0L297.7,138.6L299.6,137.1L301.6,135.6L303.5,134.2L305.5,132.7L307.4,131.2L309.3,129.7L311.3,128.2L313.2,126.7L315.2,125.2L317.1,123.7L319.0,122.2L321.0,120.7L322.9,119.1L324.9,117.6L326.8,116.1L328.7,114.6L330.7,113.0L332.6,111.5L334.5,109.9L336.5,108.4L338.4,106.9L340.4,105.3L342.3,103.8L344.2,102.2L346.2,100.6L348.1,99.1L350.1,97.5L352.0,96.0L353.9,94.4L355.9,92.8L357.8,91.3L359.8,89.7L361.7,88.2L363.6,86.6L365.6,85.0L367.5,83.5L369.5,81.9L371.4,80.3L373.3,78.8L375.3,77.2L377.2,75.7L379.1,74.1L381.1,72.5L383.0,71.0L385.0,69.4L386.9,67.9L388.8,66.3L390.8,64.8L392.7,63.2L394.7,61.7L396.6,60.1L398.5,58.6L400.5,57.0L402.4,55.5L404.4,53.9L406.3,52.4L408.2,50.8L410.2,49.2L412.1,47.7L414.1,46.1L416.0,44.6L417.9,43.0L419.9,41.5L421.8,39.9L423.8,38.4L425.7,36.8L427.6,35.3L429.6,33.7L431.5,32.1L433.4,30.6L435.4,29.0L437.3,27.5L439.3,25.9L441.2,24.4L443.1,22.8L445.1,21.3L447.0,19.7L449.0,18.2L450.9,16.6" fill="none" stroke="#FF00D0" stroke-width="1.9"/>
<path d="M65.0,196.3L66.9,196.2L68.9,196.2L70.8,196.1L72.8,196.1L74.7,196.1L76.6,196.0L78.6,196.0L80.5,196.0L82.5,195.9L84.4,195.9L86.3,195.8L88.3,195.8L90.2,195.7L92.1,195.7L94.1,195.6L96.0,195.6L98.0,195.5L99.9,195.5L101.8,195.4L103.8,195.4L105.7,195.3L107.7,195.3L109.6,195.2L111.5,195.2L113.5,195.1L115.4,195.1L117.4,195.0L119.3,195.0L121.2,194.9L123.2,194.8L125.1,194.8L127.1,194.7L129.0,194.6L130.9,194.6L132.9,194.5L134.8,194.4L136.8,194.3L138.7,194.3L140.6,194.2L142.6,194.1L144.5,194.0L146.4,193.9L148.4,193.8L150.3,193.7L152.3,193.6L154.2,193.4L156.1,193.3L158.1,193.1L160.0,192.9L162.0,192.8L163.9,192.6L165.8,192.4L167.8,192.1L169.7,191.9L171.7,191.7L173.6,191.4L175.5,191.2L177.5,190.9L179.4,190.6L181.4,190.3L183.3,190.0L185.2,189.6L187.2,189.3L189.1,188.9L191.0,188.5L193.0,188.1L194.9,187.7L196.9,187.3L198.8,186.8L200.7,186.3L202.7,185.9L204.6,185.3L206.6,184.8L208.5,184.2L210.4,183.6L212.4,183.0L214.3,182.3L216.3,181.7L218.2,181.0L220.1,180.2L222.1,179.5L224.0,178.7L226.0,178.0L227.9,177.2L229.8,176.3L231.8,175.5L233.7,174.7L235.6,173.8L237.6,172.9L239.5,172.0L241.5,171.1L243.4,170.2L245.3,169.3L247.3,168.4L249.2,167.4L251.2,166.5L253.1,165.5L255.0,164.4L257.0,163.4L258.9,162.3L260.9,161.2L262.8,160.0L264.7,158.8L266.7,157.6L268.6,156.4L270.6,155.1L272.5,153.8L274.4,152.5L276.4,151.2L278.3,149.9L280.3,148.5L282.2,147.1L284.1,145.7L286.1,144.3L288.0,142.9L289.9,141.4L291.9,140.0L293.8,138.5L295.8,137.1L297.7,135.6L299.6,134.1L301.6,132.7L303.5,131.2L305.5,129.7L307.4,128.2L309.3,126.8L311.3,125.3L313.2,123.8L315.2,122.4L317.1,120.9L319.0,119.5L321.0,118.0L322.9,116.6L324.9,115.1L326.8,113.6L328.7,112.1L330.7,110.6L332.6,109.1L334.5,107.6L336.5,106.1L338.4,104.6L340.4,103.0L342.3,101.5L344.2,99.9L346.2,98.4L348.1,96.8L350.1,95.2L352.0,93.6L353.9,92.1L355.9,90.5L357.8,88.9L359.8,87.3L361.7,85.7L363.6,84.2L365.6,82.6L367.5,81.0L369.5,79.4L371.4,77.8L373.3,76.3L375.3,74.7L377.2,73.1L379.1,71.6L381.1,70.0L383.0,68.5L385.0,66.9L386.9,65.4L388.8,63.8L390.8,62.2L392.7,60.7L394.7,59.1L396.6,57.6L398.5,56.0L400.5,54.5L402.4,52.9L404.4,51.3L406.3,49.8L408.2,48.2L410.2,46.7L412.1,45.1L414.1,43.5L416.0,42.0L417.9,40.4L419.9,38.9L421.8,37.3L423.8,35.7L425.7,34.2L427.6,32.6L429.6,31.0L431.5,29.5L433.4,27.9L435.4,26.3L437.3,24.8L439.3,23.2L441.2,21.6L443.1,20.1L445.1,18.5L447.0,16.9L449.0,15.4L450.9,13.8" fill="none" stroke="#1E8A1E" stroke-width="1.6"/>
<path d="M65.0,203.1L66.9,203.1L68.9,203.1L70.8,203.1L72.8,203.1L74.7,203.1L76.6,203.1L78.6,203.1L80.5,203.1L82.5,203.0L84.4,203.0L86.3,203.0L88.3,203.0L90.2,203.0L92.1,203.0L94.1,203.0L96.0,202.9L98.0,202.9L99.9,202.9L101.8,202.9L103.8,202.8L105.7,202.7L107.7,202.6L109.6,202.5L111.5,202.3L113.5,202.2L115.4,202.0L117.4,201.8L119.3,201.6L121.2,201.4L123.2,201.2L125.1,201.0L127.1,200.8L129.0,200.7L130.9,200.5L132.9,200.3L134.8,200.2L136.8,200.0L138.7,199.9L140.6,199.7L142.6,199.6L144.5,199.4L146.4,199.3L148.4,199.1L150.3,198.9L152.3,198.8L154.2,198.6L156.1,198.4L158.1,198.2L160.0,198.0L162.0,197.8L163.9,197.5L165.8,197.3L167.8,197.0L169.7,196.7L171.7,196.4L173.6,196.0L175.5,195.6L177.5,195.1L179.4,194.7L181.4,194.1L183.3,193.6L185.2,193.1L187.2,192.6L189.1,192.0L191.0,191.5L193.0,191.0L194.9,190.5L196.9,190.0L198.8,189.5L200.7,188.9L202.7,188.3L204.6,187.7L206.6,187.0L208.5,186.3L210.4,185.5L212.4,184.7L214.3,183.9L216.3,183.1L218.2,182.3L220.1,181.5L222.1,180.7L224.0,179.9L226.0,179.1L227.9,178.3L229.8,177.4L231.8,176.6L233.7,175.7L235.6,174.9L237.6,174.0L239.5,173.1L241.5,172.2L243.4,171.2L245.3,170.2L247.3,169.1L249.2,168.0L251.2,166.8L253.1,165.6L255.0,164.5L257.0,163.3L258.9,162.1L260.9,160.9L262.8,159.7L264.7,158.5L266.7,157.2L268.6,156.0L270.6,154.7L272.5,153.4L274.4,152.1L276.4,150.7L278.3,149.4L280.3,148.1L282.2,146.7L284.1,145.3L286.1,144.0L288.0,142.6L289.9,141.2L291.9,139.8L293.8,138.3L295.8,136.9L297.7,135.5L299.6,134.1L301.6,132.6L303.5,131.2L305.5,129.7L307.4,128.3L309.3,126.8L311.3,125.3L313.2,123.9L315.2,122.4L317.1,120.9L319.0,119.5L321.0,118.0L322.9,116.5L324.9,115.0L326.8,113.5L328.7,112.0L330.7,110.5L332.6,109.0L334.5,107.5L336.5,105.9L338.4,104.4L340.4,102.9L342.3,101.3L344.2,99.8L346.2,98.2L348.1,96.6L350.1,95.1L352.0,93.5L353.9,91.9L355.9,90.4L357.8,88.8L359.8,87.2L361.7,85.7L363.6,84.1L365.6,82.5L367.5,81.0L369.5,79.4L371.4,77.8L373.3,76.3L375.3,74.7L377.2,73.1L379.1,71.6L381.1,70.0L383.0,68.5L385.0,66.9L386.9,65.4L388.8,63.8L390.8,62.2L392.7,60.7L394.7,59.1L396.6,57.6L398.5,56.0L400.5,54.5L402.4,52.9L404.4,51.3L406.3,49.8L408.2,48.2L410.2,46.7L412.1,45.1L414.1,43.5L416.0,42.0L417.9,40.4L419.9,38.9L421.8,37.3L423.8,35.7L425.7,34.2L427.6,32.6L429.6,31.0L431.5,29.5L433.4,27.9L435.4,26.3L437.3,24.8L439.3,23.2L441.2,21.6L443.1,20.1L445.1,18.5L447.0,16.9L449.0,15.4L450.9,13.8" fill="none" stroke="#1E8A1E" stroke-width="1.6"/>
<path d="M65.0,113.5L65.6,113.5L66.3,113.5L66.9,113.5L67.6,113.5L68.2,113.5L68.9,113.5L69.5,113.5L70.2,113.5L70.8,113.5L71.4,113.5L72.1,113.5L72.7,113.5L73.4,113.5L74.0,113.5L74.7,113.5L75.3,113.5L76.0,113.5L76.6,113.5L77.2,113.5L77.9,113.5L78.5,113.5L79.2,113.5L79.8,113.5L80.5,113.5L81.1,113.5L81.8,113.5L82.4,113.5L83.0,113.5L83.7,113.5L84.3,113.5L85.0,113.5L85.6,113.5L86.3,113.5L86.9,113.5L87.5,113.5L88.2,113.5L88.8,113.5L89.5,113.5L90.1,113.5L90.8,113.5L91.4,113.5L92.1,113.5L92.7,113.5L93.3,113.5L94.0,113.5L94.6,113.5L95.3,113.5L95.9,113.5L96.6,113.5L97.2,113.5L97.9,113.5L98.5,113.5L99.1,113.5L99.8,113.5L100.4,113.5L101.1,113.5L101.7,113.5L102.4,113.5L103.0,113.5L103.7,113.5L104.3,113.5L104.9,113.5L105.6,113.5L106.2,113.5L106.9,113.5L107.5,113.5L108.2,113.5L108.8,113.5L109.5,113.5L110.1,113.5L110.7,113.5L111.4,113.5L112.0,113.5L112.7,113.5L113.3,113.5L114.0,113.5L114.6,113.5L115.3,113.5L115.9,113.5L116.5,113.5L117.2,113.5L117.8,113.5L118.5,113.5L119.1,113.5L119.8,113.5L120.4,113.5L121.0,113.5L121.7,113.5L122.3,113.5L123.0,113.5L123.6,113.5L124.3,113.5L124.9,113.5L125.6,113.5L126.2,113.5L126.8,113.5L127.5,113.5L128.1,113.5L128.8,113.5L129.4,113.5L130.1,113.5L130.7,113.5L131.4,113.5L132.0,113.5L132.6,113.5L133.3,113.5L133.9,113.5L134.6,113.5L135.2,113.5L135.9,113.5L136.5,113.5L137.2,113.5L137.8,113.5L138.4,113.5L139.1,113.5L139.7,113.5L140.4,113.5L141.0,113.5L141.7,113.5L142.3,113.5L143.0,113.5L143.6,113.5L144.2,113.5L144.9,113.5L145.5,113.5L146.2,113.5L146.8,113.5L147.5,113.5L148.1,113.5L148.8,113.5L149.4,113.5L150.0,113.5L150.7,113.5L151.3,113.5L152.0,113.5L152.6,113.5L153.3,113.5L153.9,113.5L154.5,113.5L155.2,113.5L155.8,113.5L156.5,113.5L157.1,113.5L157.8,113.5L158.4,113.5L159.1,113.5L159.7,113.5L160.3,113.5L161.0,113.5L161.6,113.5L162.3,113.5L162.9,113.5L163.6,113.5L164.2,113.5L164.9,113.5L165.5,113.5L166.1,113.5L166.8,113.5L167.4,113.5L168.1,113.5L168.7,113.5L169.4,113.5L170.0,113.5L170.7,113.5L171.3,113.5L171.9,113.5L172.6,113.5L173.2,113.5L173.9,113.5L174.5,113.5L175.2,113.5L175.8,113.5L176.5,113.5L177.1,113.5L177.7,113.5L178.4,113.5L179.0,113.5L179.7,113.5L180.3,113.5L181.0,113.5L181.6,113.5L182.3,113.5L182.9,113.5L183.5,113.5L184.2,113.5L184.8,113.5L185.5,113.5L186.1,113.5L186.8,113.5L187.4,113.5L188.0,113.5L188.7,113.5L189.3,113.5L190.0,113.5L190.6,113.5L191.3,113.5L191.9,113.5L192.6,113.5L193.2,113.5L193.8,113.5L194.5,113.5L195.1,113.5L195.8,113.5L196.4,113.5L197.1,113.5L197.7,113.5L198.4,113.4L199.0,113.4L199.6,113.4L200.3,113.4L200.9,113.4L201.6,113.4L202.2,113.4L202.9,113.4L203.5,113.4L204.2,113.4L204.8,113.4L205.4,113.4L206.1,113.4L206.7,113.4L207.4,113.4L208.0,113.4L208.7,113.4L209.3,113.4L210.0,113.4L210.6,113.4L211.2,113.4L211.9,113.4L212.5,113.4L213.2,113.4L213.8,113.4L214.5,113.4L215.1,113.4L215.8,113.4L216.4,113.4L217.0,113.4L217.7,113.4L218.3,113.4L219.0,113.4L219.6,113.4L220.3,113.4L220.9,113.4L221.6,113.3L222.2,113.3L222.8,113.3L223.5,113.3L224.1,113.3L224.8,113.3L225.4,113.3L226.1,113.3L226.7,113.3L227.3,113.3L228.0,113.3L228.6,113.3L229.3,113.3L229.9,113.3L230.6,113.3L231.2,113.3L231.9,113.3L232.5,113.3L233.1,113.2L233.8,113.2L234.4,113.2L235.1,113.2L235.7,113.2L236.4,113.2L237.0,113.2L237.7,113.2L238.3,113.2L238.9,113.2L239.6,113.2L240.2,113.1L240.9,113.1L241.5,113.1L242.2,113.1L242.8,113.1L243.5,113.1L244.1,113.1L244.7,113.1L245.4,113.1L246.0,113.0L246.7,113.0L247.3,113.0L248.0,113.0L248.6,113.0L249.3,113.0L249.9,113.0L250.5,112.9L251.2,112.9L251.8,112.9L252.5,112.9L253.1,112.9L253.8,112.9L254.4,112.8L255.1,112.8L255.7,112.8L256.3,112.8L257.0,112.8L257.6,112.7L258.3,112.7L258.9,112.7L259.6,112.7L260.2,112.7L260.8,112.6L261.5,112.6L262.1,112.6L262.8,112.6L263.4,112.5L264.1,112.5L264.7,112.5L265.4,112.4L266.0,112.4L266.6,112.4L267.3,112.3L267.9,112.3L268.6,112.3L269.2,112.2L269.9,112.2L270.5,112.2L271.2,112.1L271.8,112.1L272.4,112.1L273.1,112.0L273.7,112.0L274.4,111.9L275.0,111.9L275.7,111.8L276.3,111.8L277.0,111.7L277.6,111.7L278.2,111.6L278.9,111.6L279.5,111.5L280.2,111.5L280.8,111.4L281.5,111.4L282.1,111.3L282.8,111.2L283.4,111.2L284.0,111.1L284.7,111.0L285.3,111.0L286.0,110.9L286.6,110.8L287.3,110.8L287.9,110.7L288.6,110.6L289.2,110.5L289.8,110.4L290.5,110.4L291.1,110.3L291.8,110.2L292.4,110.1L293.1,110.0L293.7,109.9L294.3,109.8L295.0,109.7L295.6,109.6L296.3,109.5L296.9,109.4L297.6,109.3L298.2,109.2L298.9,109.1L299.5,108.9L300.1,108.8L300.8,108.7L301.4,108.6L302.1,108.4L302.7,108.3L303.4,108.2L304.0,108.0L304.7,107.9L305.3,107.8L305.9,107.6L306.6,107.5L307.2,107.3L307.9,107.1L308.5,107.0L309.2,106.8L309.8,106.6L310.5,106.5L311.1,106.3L311.7,106.1L312.4,105.9L313.0,105.8L313.7,105.6L314.3,105.4L315.0,105.2L315.6,105.0L316.3,104.8L316.9,104.6L317.5,104.4L318.2,104.1L318.8,103.9L319.5,103.7L320.1,103.5L320.8,103.2L321.4,103.0L322.1,102.8L322.7,102.5L323.3,102.3L324.0,102.0L324.6,101.8L325.3,101.5L325.9,101.3L326.6,101.0L327.2,100.7L327.9,100.5L328.5,100.2L329.1,99.9L329.8,99.6L330.4,99.3L331.1,99.0L331.7,98.7L332.4,98.4L333.0,98.1L333.6,97.8L334.3,97.5L334.9,97.2L335.6,96.9L336.2,96.6L336.9,96.2L337.5,95.9L338.2,95.6L338.8,95.2L339.4,94.9L340.1,94.5L340.7,94.2L341.4,93.8L342.0,93.5L342.7,93.1L343.3,92.8L344.0,92.4L344.6,92.0L345.2,91.7L345.9,91.3L346.5,90.9L347.2,90.5L347.8,90.2L348.5,89.8L349.1,89.4L349.8,89.0L350.4,88.6L351.0,88.2L351.7,87.8L352.3,87.4L353.0,87.0L353.6,86.6L354.3,86.2L354.9,85.8L355.6,85.3L356.2,84.9L356.8,84.5L357.5,84.1L358.1,83.6L358.8,83.2L359.4,82.8L360.1,82.4L360.7,81.9L361.4,81.5L362.0,81.1L362.6,80.6L363.3,80.2L363.9,79.7L364.6,79.3L365.2,78.8L365.9,78.4L366.5,77.9L367.1,77.5L367.8,77.0L368.4,76.6L369.1,76.1L369.7,75.7L370.4,75.2L371.0,74.7L371.7,74.3L372.3,73.8L372.9,73.3L373.6,72.9L374.2,72.4L374.9,71.9L375.5,71.5L376.2,71.0L376.8,70.5L377.5,70.0L378.1,69.6L378.7,69.1L379.4,68.6L380.0,68.1L380.7,67.7L381.3,67.2L382.0,66.7L382.6,66.2L383.3,65.7L383.9,65.2L384.5,64.8L385.2,64.3L385.8,63.8L386.5,63.3L387.1,62.8L387.8,62.3L388.4,61.8L389.1,61.3L389.7,60.9L390.3,60.4L391.0,59.9L391.6,59.4L392.3,58.9L392.9,58.4L393.6,57.9L394.2,57.4L394.9,56.9L395.5,56.4L396.1,55.9L396.8,55.4L397.4,54.9L398.1,54.4L398.7,53.9L399.4,53.4L400.0,52.9L400.6,52.4L401.3,51.9L401.9,51.4L402.6,50.9L403.2,50.4L403.9,49.9L404.5,49.4L405.2,48.9L405.8,48.4L406.4,47.9L407.1,47.4L407.7,46.9L408.4,46.4L409.0,45.9L409.7,45.4L410.3,44.9L411.0,44.4L411.6,43.9L412.2,43.4L412.9,42.9L413.5,42.4L414.2,41.8L414.8,41.3L415.5,40.8L416.1,40.3L416.8,39.8L417.4,39.3L418.0,38.8L418.7,38.3L419.3,37.8L420.0,37.3L420.6,36.8L421.3,36.3L421.9,35.8L422.6,35.2L423.2,34.7L423.8,34.2L424.5,33.7L425.1,33.2L425.8,32.7L426.4,32.2L427.1,31.7L427.7,31.2L428.4,30.7L429.0,30.1L429.6,29.6L430.3,29.1L430.9,28.6L431.6,28.1L432.2,27.6L432.9,27.1L433.5,26.6L434.1,26.1L434.8,25.6L435.4,25.0L436.1,24.5L436.7,24.0L437.4,23.5L438.0,23.0L438.7,22.5L439.3,22.0L439.9,21.5L440.6,21.0L441.2,20.4L441.9,19.9L442.5,19.4L443.2,18.9L443.8,18.4L444.5,17.9L445.1,17.4L445.7,16.9L446.4,16.3L447.0,15.8L447.7,15.3L448.3,14.8L449.0,14.3L449.6,13.8L450.3,13.3L450.9,12.8" fill="none" stroke="#FF0000" stroke-width="2.6" stroke-dasharray="9.6 4.4" stroke-dashoffset="2.3"/>
<path d="M65.0,154.7L65.6,154.7L66.3,154.7L66.9,154.7L67.6,154.7L68.2,154.7L68.9,154.7L69.5,154.7L70.2,154.7L70.8,154.7L71.4,154.7L72.1,154.7L72.7,154.7L73.4,154.7L74.0,154.7L74.7,154.7L75.3,154.7L76.0,154.7L76.6,154.7L77.2,154.7L77.9,154.7L78.5,154.7L79.2,154.7L79.8,154.7L80.5,154.7L81.1,154.7L81.8,154.7L82.4,154.7L83.0,154.7L83.7,154.7L84.3,154.7L85.0,154.7L85.6,154.7L86.3,154.7L86.9,154.7L87.5,154.7L88.2,154.7L88.8,154.7L89.5,154.7L90.1,154.7L90.8,154.7L91.4,154.7L92.1,154.7L92.7,154.7L93.3,154.7L94.0,154.7L94.6,154.7L95.3,154.7L95.9,154.7L96.6,154.7L97.2,154.7L97.9,154.7L98.5,154.7L99.1,154.7L99.8,154.7L100.4,154.7L101.1,154.7L101.7,154.7L102.4,154.7L103.0,154.7L103.7,154.7L104.3,154.7L104.9,154.7L105.6,154.7L106.2,154.7L106.9,154.7L107.5,154.7L108.2,154.7L108.8,154.7L109.5,154.7L110.1,154.7L110.7,154.7L111.4,154.7L112.0,154.7L112.7,154.7L113.3,154.7L114.0,154.7L114.6,154.7L115.3,154.7L115.9,154.7L116.5,154.7L117.2,154.7L117.8,154.7L118.5,154.7L119.1,154.7L119.8,154.7L120.4,154.7L121.0,154.7L121.7,154.7L122.3,154.7L123.0,154.7L123.6,154.7L124.3,154.7L124.9,154.7L125.6,154.7L126.2,154.7L126.8,154.7L127.5,154.7L128.1,154.7L128.8,154.7L129.4,154.7L130.1,154.7L130.7,154.7L131.4,154.7L132.0,154.7L132.6,154.7L133.3,154.7L133.9,154.7L134.6,154.7L135.2,154.7L135.9,154.7L136.5,154.7L137.2,154.7L137.8,154.7L138.4,154.7L139.1,154.7L139.7,154.7L140.4,154.7L141.0,154.7L141.7,154.7L142.3,154.7L143.0,154.7L143.6,154.7L144.2,154.7L144.9,154.7L145.5,154.7L146.2,154.7L146.8,154.7L147.5,154.7L148.1,154.7L148.8,154.7L149.4,154.7L150.0,154.7L150.7,154.7L151.3,154.7L152.0,154.7L152.6,154.7L153.3,154.7L153.9,154.7L154.5,154.7L155.2,154.7L155.8,154.7L156.5,154.7L157.1,154.7L157.8,154.7L158.4,154.7L159.1,154.7L159.7,154.7L160.3,154.7L161.0,154.7L161.6,154.7L162.3,154.7L162.9,154.7L163.6,154.7L164.2,154.7L164.9,154.7L165.5,154.7L166.1,154.7L166.8,154.7L167.4,154.7L168.1,154.7L168.7,154.7L169.4,154.7L170.0,154.7L170.7,154.7L171.3,154.7L171.9,154.7L172.6,154.7L173.2,154.7L173.9,154.7L174.5,154.7L175.2,154.7L175.8,154.7L176.5,154.7L177.1,154.7L177.7,154.7L178.4,154.7L179.0,154.7L179.7,154.7L180.3,154.7L181.0,154.7L181.6,154.7L182.3,154.7L182.9,154.7L183.5,154.7L184.2,154.8L184.8,154.8L185.5,154.8L186.1,154.8L186.8,154.8L187.4,154.8L188.0,154.8L188.7,154.8L189.3,154.8L190.0,154.8L190.6,154.8L191.3,154.8L191.9,154.8L192.6,154.8L193.2,154.8L193.8,154.8L194.5,154.8L195.1,154.8L195.8,154.8L196.4,154.8L197.1,154.8L197.7,154.8L198.4,154.8L199.0,154.8L199.6,154.8L200.3,154.8L200.9,154.8L201.6,154.8L202.2,154.8L202.9,154.8L203.5,154.8L204.2,154.8L204.8,154.8L205.4,154.8L206.1,154.8L206.7,154.8L207.4,154.8L208.0,154.8L208.7,154.8L209.3,154.8L210.0,154.8L210.6,154.8L211.2,154.8L211.9,154.8L212.5,154.8L213.2,154.8L213.8,154.8L214.5,154.8L215.1,154.8L215.8,154.8L216.4,154.8L217.0,154.8L217.7,154.8L218.3,154.8L219.0,154.8L219.6,154.8L220.3,154.8L220.9,154.8L221.6,154.8L222.2,154.8L222.8,154.8L223.5,154.8L224.1,154.8L224.8,154.8L225.4,154.8L226.1,154.8L226.7,154.8L227.3,154.8L228.0,154.8L228.6,154.8L229.3,154.8L229.9,154.8L230.6,154.8L231.2,154.8L231.9,154.8L232.5,154.8L233.1,154.7L233.8,154.7L234.4,154.7L235.1,154.7L235.7,154.7L236.4,154.7L237.0,154.7L237.7,154.7L238.3,154.7L238.9,154.7L239.6,154.7L240.2,154.7L240.9,154.7L241.5,154.7L242.2,154.7L242.8,154.7L243.5,154.7L244.1,154.7L244.7,154.7L245.4,154.7L246.0,154.7L246.7,154.7L247.3,154.7L248.0,154.6L248.6,154.6L249.3,154.6L249.9,154.6L250.5,154.6L251.2,154.6L251.8,154.6L252.5,154.6L253.1,154.6L253.8,154.6L254.4,154.5L255.1,154.5L255.7,154.5L256.3,154.5L257.0,154.5L257.6,154.5L258.3,154.5L258.9,154.5L259.6,154.4L260.2,154.4L260.8,154.4L261.5,154.4L262.1,154.4L262.8,154.4L263.4,154.3L264.1,154.3L264.7,154.3L265.4,154.3L266.0,154.3L266.6,154.2L267.3,154.2L267.9,154.2L268.6,154.2L269.2,154.1L269.9,154.1L270.5,154.1L271.2,154.0L271.8,154.0L272.4,154.0L273.1,154.0L273.7,153.9L274.4,153.9L275.0,153.9L275.7,153.8L276.3,153.8L277.0,153.7L277.6,153.7L278.2,153.7L278.9,153.6L279.5,153.6L280.2,153.5L280.8,153.5L281.5,153.4L282.1,153.4L282.8,153.3L283.4,153.3L284.0,153.2L284.7,153.2L285.3,153.1L286.0,153.0L286.6,153.0L287.3,152.9L287.9,152.8L288.6,152.8L289.2,152.7L289.8,152.6L290.5,152.6L291.1,152.5L291.8,152.4L292.4,152.3L293.1,152.2L293.7,152.1L294.3,152.1L295.0,152.0L295.6,151.9L296.3,151.8L296.9,151.7L297.6,151.6L298.2,151.5L298.9,151.4L299.5,151.3L300.1,151.1L300.8,151.0L301.4,150.9L302.1,150.8L302.7,150.7L303.4,150.5L304.0,150.4L304.7,150.3L305.3,150.1L305.9,150.0L306.6,149.9L307.2,149.7L307.9,149.6L308.5,149.4L309.2,149.2L309.8,149.1L310.5,148.9L311.1,148.8L311.7,148.6L312.4,148.4L313.0,148.2L313.7,148.1L314.3,147.9L315.0,147.7L315.6,147.6L316.3,147.4L316.9,147.3L317.5,147.1L318.2,146.9L318.8,146.8L319.5,146.6L320.1,146.4L320.8,146.3L321.4,146.1L322.1,145.9L322.7,145.8L323.3,145.6L324.0,145.4L324.6,145.3L325.3,145.1L325.9,144.9L326.6,144.7L327.2,144.5L327.9,144.3L328.5,144.1L329.1,143.9L329.8,143.7L330.4,143.5L331.1,143.3L331.7,143.1L332.4,142.8L333.0,142.6L333.6,142.3L334.3,142.1L334.9,141.8L335.6,141.6L336.2,141.3L336.9,141.0L337.5,140.7L338.2,140.5L338.8,140.2L339.4,139.8L340.1,139.5L340.7,139.2L341.4,138.9L342.0,138.5L342.7,138.2L343.3,137.8L344.0,137.4L344.6,137.1L345.2,136.7L345.9,136.3L346.5,135.9L347.2,135.6L347.8,135.2L348.5,134.8L349.1,134.4L349.8,134.0L350.4,133.6L351.0,133.2L351.7,132.8L352.3,132.4L353.0,132.0L353.6,131.6L354.3,131.2L354.9,130.8L355.6,130.4L356.2,129.9L356.8,129.5L357.5,129.1L358.1,128.7L358.8,128.2L359.4,127.8L360.1,127.4L360.7,126.9L361.4,126.5L362.0,126.1L362.6,125.6L363.3,125.2L363.9,124.7L364.6,124.3L365.2,123.8L365.9,123.4L366.5,122.9L367.1,122.5L367.8,122.0L368.4,121.6L369.1,121.1L369.7,120.7L370.4,120.2L371.0,119.7L371.7,119.3L372.3,118.8L372.9,118.3L373.6,117.8L374.2,117.4L374.9,116.9L375.5,116.4L376.2,115.9L376.8,115.4L377.5,114.9L378.1,114.5L378.7,114.0L379.4,113.5L380.0,113.0L380.7,112.5L381.3,112.0L382.0,111.5L382.6,111.0L383.3,110.5L383.9,110.0L384.5,109.5L385.2,109.0L385.8,108.5L386.5,108.0L387.1,107.5L387.8,107.0L388.4,106.5L389.1,106.0L389.7,105.5L390.3,105.0L391.0,104.5L391.6,104.0L392.3,103.5L392.9,103.0L393.6,102.5L394.2,102.0L394.9,101.5L395.5,101.0L396.1,100.5L396.8,100.0L397.4,99.5L398.1,98.9L398.7,98.4L399.4,97.9L400.0,97.4L400.6,96.9L401.3,96.4L401.9,95.9L402.6,95.4L403.2,94.9L403.9,94.3L404.5,93.8L405.2,93.3L405.8,92.8L406.4,92.3L407.1,91.8L407.7,91.3L408.4,90.7L409.0,90.2L409.7,89.7L410.3,89.2L411.0,88.7L411.6,88.2L412.2,87.6L412.9,87.1L413.5,86.6L414.2,86.1L414.8,85.6L415.5,85.1L416.1,84.5L416.8,84.0L417.4,83.5L418.0,83.0L418.7,82.5L419.3,81.9L420.0,81.4L420.6,80.9L421.3,80.4L421.9,79.9L422.6,79.4L423.2,78.8L423.8,78.3L424.5,77.8L425.1,77.3L425.8,76.8L426.4,76.2L427.1,75.7L427.7,75.2L428.4,74.7L429.0,74.1L429.6,73.6L430.3,73.1L430.9,72.6L431.6,72.1L432.2,71.5L432.9,71.0L433.5,70.5L434.1,70.0L434.8,69.5L435.4,68.9L436.1,68.4L436.7,67.9L437.4,67.4L438.0,66.8L438.7,66.3L439.3,65.8L439.9,65.3L440.6,64.8L441.2,64.2L441.9,63.7L442.5,63.2L443.2,62.7L443.8,62.1L444.5,61.6L445.1,61.1L445.7,60.6L446.4,60.0L447.0,59.5L447.7,59.0L448.3,58.5L449.0,58.0L449.6,57.4L450.3,56.9L450.9,56.4" fill="none" stroke="#FF0000" stroke-width="2.6" stroke-dasharray="9.6 4.4" stroke-dashoffset="2.3"/>
<path d="M65.0,195.3L65.6,195.2L66.3,195.2L66.9,195.2L67.6,195.2L68.2,195.2L68.9,195.2L69.5,195.2L70.2,195.2L70.8,195.2L71.4,195.2L72.1,195.2L72.7,195.2L73.4,195.1L74.0,195.1L74.7,195.1L75.3,195.1L76.0,195.1L76.6,195.1L77.2,195.1L77.9,195.1L78.5,195.1L79.2,195.0L79.8,195.0L80.5,195.0L81.1,195.0L81.8,195.0L82.4,195.0L83.0,195.0L83.7,195.0L84.3,195.0L85.0,194.9L85.6,194.9L86.3,194.9L86.9,194.9L87.5,194.9L88.2,194.9L88.8,194.9L89.5,194.9L90.1,194.8L90.8,194.8L91.4,194.8L92.1,194.8L92.7,194.8L93.3,194.8L94.0,194.7L94.6,194.7L95.3,194.7L95.9,194.7L96.6,194.7L97.2,194.7L97.9,194.7L98.5,194.6L99.1,194.6L99.8,194.6L100.4,194.6L101.1,194.6L101.7,194.5L102.4,194.5L103.0,194.5L103.7,194.5L104.3,194.5L104.9,194.5L105.6,194.4L106.2,194.4L106.9,194.4L107.5,194.4L108.2,194.3L108.8,194.3L109.5,194.3L110.1,194.3L110.7,194.3L111.4,194.2L112.0,194.2L112.7,194.2L113.3,194.2L114.0,194.1L114.6,194.1L115.3,194.1L115.9,194.1L116.5,194.0L117.2,194.0L117.8,194.0L118.5,194.0L119.1,193.9L119.8,193.9L120.4,193.9L121.0,193.8L121.7,193.8L122.3,193.8L123.0,193.8L123.6,193.7L124.3,193.7L124.9,193.7L125.6,193.6L126.2,193.6L126.8,193.6L127.5,193.5L128.1,193.5L128.8,193.5L129.4,193.4L130.1,193.4L130.7,193.4L131.4,193.3L132.0,193.3L132.6,193.2L133.3,193.2L133.9,193.2L134.6,193.1L135.2,193.1L135.9,193.1L136.5,193.0L137.2,193.0L137.8,192.9L138.4,192.9L139.1,192.8L139.7,192.8L140.4,192.8L141.0,192.7L141.7,192.7L142.3,192.6L143.0,192.6L143.6,192.5L144.2,192.5L144.9,192.4L145.5,192.4L146.2,192.3L146.8,192.3L147.5,192.2L148.1,192.2L148.8,192.1L149.4,192.1L150.0,192.0L150.7,191.9L151.3,191.9L152.0,191.8L152.6,191.8L153.3,191.7L153.9,191.6L154.5,191.6L155.2,191.5L155.8,191.5L156.5,191.4L157.1,191.3L157.8,191.3L158.4,191.2L159.1,191.1L159.7,191.1L160.3,191.0L161.0,190.9L161.6,190.9L162.3,190.8L162.9,190.7L163.6,190.6L164.2,190.6L164.9,190.5L165.5,190.4L166.1,190.3L166.8,190.2L167.4,190.2L168.1,190.1L168.7,190.0L169.4,189.9L170.0,189.8L170.7,189.7L171.3,189.6L171.9,189.6L172.6,189.5L173.2,189.4L173.9,189.3L174.5,189.2L175.2,189.1L175.8,189.0L176.5,188.9L177.1,188.8L177.7,188.7L178.4,188.6L179.0,188.5L179.7,188.4L180.3,188.3L181.0,188.2L181.6,188.1L182.3,187.9L182.9,187.8L183.5,187.7L184.2,187.6L184.8,187.5L185.5,187.4L186.1,187.2L186.8,187.1L187.4,187.0L188.0,186.9L188.7,186.7L189.3,186.6L190.0,186.5L190.6,186.4L191.3,186.2L191.9,186.1L192.6,185.9L193.2,185.8L193.8,185.7L194.5,185.5L195.1,185.4L195.8,185.2L196.4,185.1L197.1,184.9L197.7,184.8L198.4,184.6L199.0,184.5L199.6,184.3L200.3,184.2L200.9,184.0L201.6,183.8L202.2,183.7L202.9,183.5L203.5,183.3L204.2,183.2L204.8,183.0L205.4,182.8L206.1,182.6L206.7,182.4L207.4,182.3L208.0,182.1L208.7,181.9L209.3,181.7L210.0,181.5L210.6,181.3L211.2,181.1L211.9,180.9L212.5,180.7L213.2,180.5L213.8,180.3L214.5,180.1L215.1,179.9L215.8,179.7L216.4,179.5L217.0,179.3L217.7,179.0L218.3,178.8L219.0,178.6L219.6,178.4L220.3,178.1L220.9,177.9L221.6,177.7L222.2,177.4L222.8,177.2L223.5,177.0L224.1,176.7L224.8,176.5L225.4,176.2L226.1,176.0L226.7,175.7L227.3,175.5L228.0,175.2L228.6,174.9L229.3,174.7L229.9,174.4L230.6,174.1L231.2,173.9L231.9,173.6L232.5,173.3L233.1,173.0L233.8,172.7L234.4,172.4L235.1,172.2L235.7,171.9L236.4,171.6L237.0,171.3L237.7,171.0L238.3,170.7L238.9,170.4L239.6,170.1L240.2,169.8L240.9,169.4L241.5,169.1L242.2,168.8L242.8,168.5L243.5,168.2L244.1,167.8L244.7,167.5L245.4,167.2L246.0,166.8L246.7,166.5L247.3,166.2L248.0,165.8L248.6,165.5L249.3,165.1L249.9,164.8L250.5,164.4L251.2,164.1L251.8,163.7L252.5,163.4L253.1,163.0L253.8,162.7L254.4,162.3L255.1,161.9L255.7,161.5L256.3,161.2L257.0,160.8L257.6,160.4L258.3,160.0L258.9,159.7L259.6,159.3L260.2,158.9L260.8,158.5L261.5,158.1L262.1,157.7L262.8,157.3L263.4,156.9L264.1,156.5L264.7,156.1L265.4,155.7L266.0,155.3L266.6,154.9L267.3,154.5L267.9,154.1L268.6,153.7L269.2,153.3L269.9,152.8L270.5,152.4L271.2,152.0L271.8,151.6L272.4,151.2L273.1,150.7L273.7,150.3L274.4,149.9L275.0,149.4L275.7,149.0L276.3,148.6L277.0,148.1L277.6,147.7L278.2,147.3L278.9,146.8L279.5,146.4L280.2,145.9L280.8,145.5L281.5,145.0L282.1,144.6L282.8,144.1L283.4,143.7L284.0,143.2L284.7,142.8L285.3,142.3L286.0,141.9L286.6,141.4L287.3,141.0L287.9,140.5L288.6,140.1L289.2,139.6L289.8,139.1L290.5,138.7L291.1,138.2L291.8,137.7L292.4,137.3L293.1,136.8L293.7,136.3L294.3,135.9L295.0,135.4L295.6,134.9L296.3,134.4L296.9,134.0L297.6,133.5L298.2,133.0L298.9,132.5L299.5,132.1L300.1,131.6L300.8,131.1L301.4,130.6L302.1,130.2L302.7,129.7L303.4,129.2L304.0,128.7L304.7,128.2L305.3,127.7L305.9,127.3L306.6,126.8L307.2,126.3L307.9,125.8L308.5,125.3L309.2,124.8L309.8,124.3L310.5,123.8L311.1,123.4L311.7,122.9L312.4,122.4L313.0,121.9L313.7,121.4L314.3,120.9L315.0,120.4L315.6,119.9L316.3,119.4L316.9,118.9L317.5,118.4L318.2,117.9L318.8,117.4L319.5,116.9L320.1,116.4L320.8,116.0L321.4,115.5L322.1,115.0L322.7,114.5L323.3,114.0L324.0,113.5L324.6,113.0L325.3,112.5L325.9,112.0L326.6,111.5L327.2,111.0L327.9,110.5L328.5,110.0L329.1,109.5L329.8,109.0L330.4,108.5L331.1,108.0L331.7,107.4L332.4,106.9L333.0,106.4L333.6,105.9L334.3,105.4L334.9,104.9L335.6,104.4L336.2,103.9L336.9,103.4L337.5,102.9L338.2,102.4L338.8,101.9L339.4,101.4L340.1,100.9L340.7,100.4L341.4,99.9L342.0,99.4L342.7,98.9L343.3,98.4L344.0,97.8L344.6,97.3L345.2,96.8L345.9,96.3L346.5,95.8L347.2,95.3L347.8,94.8L348.5,94.3L349.1,93.8L349.8,93.3L350.4,92.8L351.0,92.3L351.7,91.8L352.3,91.2L353.0,90.7L353.6,90.2L354.3,89.7L354.9,89.2L355.6,88.7L356.2,88.2L356.8,87.7L357.5,87.2L358.1,86.7L358.8,86.1L359.4,85.6L360.1,85.1L360.7,84.6L361.4,84.1L362.0,83.6L362.6,83.1L363.3,82.6L363.9,82.1L364.6,81.5L365.2,81.0L365.9,80.5L366.5,80.0L367.1,79.5L367.8,79.0L368.4,78.5L369.1,78.0L369.7,77.5L370.4,76.9L371.0,76.4L371.7,75.9L372.3,75.4L372.9,74.9L373.6,74.4L374.2,73.9L374.9,73.4L375.5,72.8L376.2,72.3L376.8,71.8L377.5,71.3L378.1,70.8L378.7,70.3L379.4,69.8L380.0,69.3L380.7,68.8L381.3,68.2L382.0,67.7L382.6,67.2L383.3,66.7L383.9,66.2L384.5,65.7L385.2,65.2L385.8,64.7L386.5,64.1L387.1,63.6L387.8,63.1L388.4,62.6L389.1,62.1L389.7,61.6L390.3,61.1L391.0,60.5L391.6,60.0L392.3,59.5L392.9,59.0L393.6,58.5L394.2,58.0L394.9,57.5L395.5,57.0L396.1,56.4L396.8,55.9L397.4,55.4L398.1,54.9L398.7,54.4L399.4,53.9L400.0,53.4L400.6,52.9L401.3,52.3L401.9,51.8L402.6,51.3L403.2,50.8L403.9,50.3L404.5,49.8L405.2,49.3L405.8,48.7L406.4,48.2L407.1,47.7L407.7,47.2L408.4,46.7L409.0,46.2L409.7,45.7L410.3,45.2L411.0,44.6L411.6,44.1L412.2,43.6L412.9,43.1L413.5,42.6L414.2,42.1L414.8,41.6L415.5,41.0L416.1,40.5L416.8,40.0L417.4,39.5L418.0,39.0L418.7,38.5L419.3,38.0L420.0,37.5L420.6,36.9L421.3,36.4L421.9,35.9L422.6,35.4L423.2,34.9L423.8,34.4L424.5,33.9L425.1,33.3L425.8,32.8L426.4,32.3L427.1,31.8L427.7,31.3L428.4,30.8L429.0,30.3L429.6,29.7L430.3,29.2L430.9,28.7L431.6,28.2L432.2,27.7L432.9,27.2L433.5,26.7L434.1,26.2L434.8,25.6L435.4,25.1L436.1,24.6L436.7,24.1L437.4,23.6L438.0,23.1L438.7,22.6L439.3,22.0L439.9,21.5L440.6,21.0L441.2,20.5L441.9,20.0L442.5,19.5L443.2,19.0L443.8,18.4L444.5,17.9L445.1,17.4L445.7,16.9L446.4,16.4L447.0,15.9L447.7,15.4L448.3,14.9L449.0,14.3L449.6,13.8L450.3,13.3L450.9,12.8" fill="none" stroke="#0000FF" stroke-width="2.6" stroke-dasharray="9.6 4.4" stroke-dashoffset="2.3"/>
<path d="M65.0,243.3L65.6,243.4L66.3,243.4L66.9,243.4L67.6,243.5L68.2,243.5L68.9,243.5L69.5,243.6L70.2,243.6L70.8,243.7L71.4,243.7L72.1,243.8L72.7,243.8L73.4,243.8L74.0,243.9L74.7,243.9L75.3,244.0L76.0,244.0L76.6,244.1L77.2,244.1L77.9,244.2L78.5,244.2L79.2,244.3L79.8,244.3L80.5,244.4L81.1,244.4L81.8,244.5L82.4,244.5L83.0,244.6L83.7,244.7L84.3,244.7L85.0,244.8L85.6,244.8L86.3,244.9L86.9,245.0L87.5,245.0L88.2,245.1L88.8,245.1L89.5,245.2L90.1,245.3L90.8,245.4L91.4,245.4L92.1,245.5L92.7,245.6L93.3,245.6L94.0,245.7L94.6,245.8L95.3,245.9L95.9,246.0L96.6,246.0L97.2,246.1L97.9,246.2L98.5,246.3L99.1,246.4L99.8,246.5L100.4,246.6L101.1,246.6L101.7,246.7L102.4,246.8L103.0,246.9L103.7,247.0L104.3,247.1L104.9,247.2L105.6,247.3L106.2,247.4L106.9,247.5L107.5,247.7L108.2,247.8L108.8,247.9L109.5,248.0L110.1,248.1L110.7,248.2L111.4,248.4L112.0,248.5L112.7,248.6L113.3,248.7L114.0,248.9L114.6,249.0L115.3,249.2L115.9,249.3L116.5,249.4L117.2,249.6L117.8,249.7L118.5,249.9L119.1,250.0L119.8,250.2L120.4,250.4L121.0,250.5L121.7,250.7L122.3,250.9L123.0,251.0L123.6,251.2L124.3,251.4L124.9,251.6L125.6,251.8L126.2,252.0L126.8,252.2L127.5,252.4L128.1,252.6L128.8,252.8L129.4,253.0L130.1,253.2L130.7,253.5L131.4,253.7L132.0,253.9L132.6,254.2L133.3,254.4L133.9,254.7L134.6,254.9L135.2,255.2L135.9,255.5L136.5,255.7L137.2,256.0L137.8,256.3L138.4,256.6L139.1,256.9L139.7,257.2L140.4,257.5L141.0,257.9L141.7,258.2L142.3,258.5L143.0,258.9L143.6,259.2L144.2,259.6L144.9,260.0L145.5,260.4L146.2,260.8L146.8,261.2L147.5,261.6L148.1,262.1L148.8,262.5L149.4,263.0L150.0,263.4L150.7,263.9L151.3,264.4L152.0,264.9L152.6,265.5L153.3,266.0L153.9,266.6L154.5,267.2L155.2,267.8L155.8,268.4L156.5,269.1L157.1,269.7L157.8,270.4L158.4,271.2L159.1,271.9L159.7,272.7L160.3,273.5L161.0,274.3L161.6,275.2L162.3,276.1L162.9,277.1L163.6,278.0L164.2,279.1L164.9,280.2L165.5,281.3L166.1,282.5L166.8,283.8L167.4,285.1L168.1,286.5L168.7,288.0L169.4,289.6L170.0,291.3L170.7,293.1L171.3,295.0L171.9,297.1L172.6,299.3L173.2,301.8L173.9,304.5L174.5,307.5L175.2,310.8L175.8,314.5L176.5,318.8L177.1,323.8L177.7,329.7L178.4,337.0L179.0,346.6L179.7,360.3L180.3,384.4L180.6,360.5" fill="none" stroke="#0000FF" stroke-width="2.6" stroke-dasharray="9.6 4.4" stroke-dashoffset="2.3"/>
<path d="M249.6,360.5L249.9,419.1L250.5,339.0L251.2,317.3L251.8,304.1L252.5,294.6L253.1,287.1L253.8,280.9L254.4,275.7L255.1,271.1L255.7,267.0L256.3,263.4L257.0,260.0L257.6,257.0L258.3,254.1L258.9,251.5L259.6,249.0L260.2,246.7L260.8,244.5L261.5,242.4L262.1,240.4L262.8,238.5L263.4,236.7L264.1,235.0L264.7,233.3L265.4,231.7L266.0,230.2L266.6,228.7L267.3,227.2L267.9,225.8L268.6,224.5L269.2,223.1L269.9,221.8L270.5,220.6L271.2,219.4L271.8,218.2L272.4,217.0L273.1,215.9L273.7,214.8L274.4,213.7L275.0,212.6L275.7,211.6L276.3,210.5L277.0,209.5L277.6,208.5L278.2,207.6L278.9,206.6L279.5,205.7L280.2,204.8L280.8,203.8L281.5,202.9L282.1,202.1L282.8,201.2L283.4,200.3L284.0,199.5L284.7,198.6L285.3,197.8L286.0,197.0L286.6,196.2L287.3,195.4L287.9,194.6L288.6,193.8L289.2,193.0L289.8,192.3L290.5,191.5L291.1,190.8L291.8,190.0L292.4,189.3L293.1,188.6L293.7,187.8L294.3,187.1L295.0,186.4L295.6,185.7L296.3,185.0L296.9,184.3L297.6,183.6L298.2,182.9L298.9,182.2L299.5,181.6L300.1,180.9L300.8,180.2L301.4,179.6L302.1,178.9L302.7,178.3L303.4,177.6L304.0,177.0L304.7,176.3L305.3,175.7L305.9,175.0L306.6,174.4L307.2,173.8L307.9,173.1L308.5,172.5L309.2,171.9L309.8,171.3L310.5,170.7L311.1,170.1L311.7,169.5L312.4,168.9L313.0,168.3L313.7,167.7L314.3,167.1L315.0,166.5L315.6,166.0L316.3,165.4L316.9,164.9L317.5,164.3L318.2,163.8L318.8,163.2L319.5,162.7L320.1,162.2L320.8,161.7L321.4,161.2L322.1,160.6L322.7,160.1L323.3,159.6L324.0,159.1L324.6,158.6L325.3,158.1L325.9,157.7L326.6,157.2L327.2,156.7L327.9,156.2L328.5,155.7L329.1,155.2L329.8,154.7L330.4,154.3L331.1,153.8L331.7,153.3L332.4,152.8L333.0,152.3L333.6,151.8L334.3,151.4L334.9,150.9L335.6,150.4L336.2,149.9L336.9,149.4L337.5,148.9L338.2,148.4L338.8,147.9L339.4,147.3L340.1,146.8L340.7,146.3L341.4,145.8L342.0,145.2L342.7,144.7L343.3,144.2L344.0,143.6L344.6,143.1L345.2,142.6L345.9,142.0L346.5,141.5L347.2,141.0L347.8,140.4L348.5,139.9L349.1,139.4L349.8,138.8L350.4,138.3L351.0,137.8L351.7,137.2L352.3,136.7L353.0,136.2L353.6,135.6L354.3,135.1L354.9,134.6L355.6,134.0L356.2,133.5L356.8,133.0L357.5,132.5L358.1,131.9L358.8,131.4L359.4,130.9L360.1,130.4L360.7,129.8L361.4,129.3L362.0,128.8L362.6,128.3L363.3,127.7L363.9,127.2L364.6,126.7L365.2,126.2L365.9,125.7L366.5,125.1L367.1,124.6L367.8,124.1L368.4,123.6L369.1,123.0L369.7,122.5L370.4,122.0L371.0,121.5L371.7,121.0L372.3,120.4L372.9,119.9L373.6,119.4L374.2,118.8L374.9,118.3L375.5,117.8L376.2,117.2L376.8,116.7L377.5,116.2L378.1,115.6L378.7,115.1L379.4,114.6L380.0,114.1L380.7,113.5L381.3,113.0L382.0,112.5L382.6,111.9L383.3,111.4L383.9,110.9L384.5,110.4L385.2,109.8L385.8,109.3L386.5,108.8L387.1,108.2L387.8,107.7L388.4,107.2L389.1,106.7L389.7,106.1L390.3,105.6L391.0,105.1L391.6,104.5L392.3,104.0L392.9,103.5L393.6,103.0L394.2,102.4L394.9,101.9L395.5,101.4L396.1,100.9L396.8,100.3L397.4,99.8L398.1,99.3L398.7,98.7L399.4,98.2L400.0,97.7L400.6,97.2L401.3,96.6L401.9,96.1L402.6,95.6L403.2,95.1L403.9,94.5L404.5,94.0L405.2,93.5L405.8,93.0L406.4,92.4L407.1,91.9L407.7,91.4L408.4,90.9L409.0,90.3L409.7,89.8L410.3,89.3L411.0,88.8L411.6,88.2L412.2,87.7L412.9,87.2L413.5,86.7L414.2,86.1L414.8,85.6L415.5,85.1L416.1,84.5L416.8,84.0L417.4,83.5L418.0,83.0L418.7,82.4L419.3,81.9L420.0,81.4L420.6,80.9L421.3,80.3L421.9,79.8L422.6,79.3L423.2,78.8L423.8,78.2L424.5,77.7L425.1,77.2L425.8,76.7L426.4,76.1L427.1,75.6L427.7,75.1L428.4,74.6L429.0,74.0L429.6,73.5L430.3,73.0L430.9,72.5L431.6,71.9L432.2,71.4L432.9,70.9L433.5,70.4L434.1,69.8L434.8,69.3L435.4,68.8L436.1,68.3L436.7,67.7L437.4,67.2L438.0,66.7L438.7,66.2L439.3,65.6L439.9,65.1L440.6,64.6L441.2,64.1L441.9,63.5L442.5,63.0L443.2,62.5L443.8,62.0L444.5,61.4L445.1,60.9L445.7,60.4L446.4,59.9L447.0,59.3L447.7,58.8L448.3,58.3L449.0,57.8L449.6,57.2L450.3,56.7L450.9,56.2" fill="none" stroke="#0000FF" stroke-width="2.6" stroke-dasharray="9.6 4.4" stroke-dashoffset="2.3"/>
<rect x="65.0" y="12.8" width="385.9" height="93.0" fill="#CCCCCC" fill-opacity="0.5"/>
<rect x="319.5" y="12.8" width="131.39999999999998" height="307.7" fill="#CCCCCC" fill-opacity="0.5"/>
<line x1="65.0" y1="105.8" x2="450.9" y2="105.8" stroke="#000" stroke-width="1.4"/>
<line x1="319.5" y1="12.8" x2="319.5" y2="320.5" stroke="#000" stroke-width="1.4"/>
</g>
<g stroke="#000" stroke-width="1.35">
<line x1="65.00" y1="320.5" x2="65.00" y2="309.5"/>
<line x1="65.00" y1="12.8" x2="65.00" y2="23.8"/>
<line x1="65.0" y1="320.50" x2="76.0" y2="320.50"/>
<line x1="450.9" y1="320.50" x2="439.9" y2="320.50"/>
<line x1="94.04" y1="320.5" x2="94.04" y2="314.5"/>
<line x1="94.04" y1="12.8" x2="94.04" y2="18.8"/>
<line x1="65.0" y1="297.34" x2="71.0" y2="297.34"/>
<line x1="450.9" y1="297.34" x2="444.9" y2="297.34"/>
<line x1="111.03" y1="320.5" x2="111.03" y2="314.5"/>
<line x1="111.03" y1="12.8" x2="111.03" y2="18.8"/>
<line x1="65.0" y1="283.80" x2="71.0" y2="283.80"/>
<line x1="450.9" y1="283.80" x2="444.9" y2="283.80"/>
<line x1="123.08" y1="320.5" x2="123.08" y2="314.5"/>
<line x1="123.08" y1="12.8" x2="123.08" y2="18.8"/>
<line x1="65.0" y1="274.19" x2="71.0" y2="274.19"/>
<line x1="450.9" y1="274.19" x2="444.9" y2="274.19"/>
<line x1="132.43" y1="320.5" x2="132.43" y2="314.5"/>
<line x1="132.43" y1="12.8" x2="132.43" y2="18.8"/>
<line x1="65.0" y1="266.73" x2="71.0" y2="266.73"/>
<line x1="450.9" y1="266.73" x2="444.9" y2="266.73"/>
<line x1="140.07" y1="320.5" x2="140.07" y2="314.5"/>
<line x1="140.07" y1="12.8" x2="140.07" y2="18.8"/>
<line x1="65.0" y1="260.64" x2="71.0" y2="260.64"/>
<line x1="450.9" y1="260.64" x2="444.9" y2="260.64"/>
<line x1="146.53" y1="320.5" x2="146.53" y2="314.5"/>
<line x1="146.53" y1="12.8" x2="146.53" y2="18.8"/>
<line x1="65.0" y1="255.49" x2="71.0" y2="255.49"/>
<line x1="450.9" y1="255.49" x2="444.9" y2="255.49"/>
<line x1="152.13" y1="320.5" x2="152.13" y2="314.5"/>
<line x1="152.13" y1="12.8" x2="152.13" y2="18.8"/>
<line x1="65.0" y1="251.03" x2="71.0" y2="251.03"/>
<line x1="450.9" y1="251.03" x2="444.9" y2="251.03"/>
<line x1="157.06" y1="320.5" x2="157.06" y2="314.5"/>
<line x1="157.06" y1="12.8" x2="157.06" y2="18.8"/>
<line x1="65.0" y1="247.09" x2="71.0" y2="247.09"/>
<line x1="450.9" y1="247.09" x2="444.9" y2="247.09"/>
<line x1="161.47" y1="320.5" x2="161.47" y2="309.5"/>
<line x1="161.47" y1="12.8" x2="161.47" y2="23.8"/>
<line x1="65.0" y1="243.57" x2="76.0" y2="243.57"/>
<line x1="450.9" y1="243.57" x2="439.9" y2="243.57"/>
<line x1="190.52" y1="320.5" x2="190.52" y2="314.5"/>
<line x1="190.52" y1="12.8" x2="190.52" y2="18.8"/>
<line x1="65.0" y1="220.42" x2="71.0" y2="220.42"/>
<line x1="450.9" y1="220.42" x2="444.9" y2="220.42"/>
<line x1="207.51" y1="320.5" x2="207.51" y2="314.5"/>
<line x1="207.51" y1="12.8" x2="207.51" y2="18.8"/>
<line x1="65.0" y1="206.87" x2="71.0" y2="206.87"/>
<line x1="450.9" y1="206.87" x2="444.9" y2="206.87"/>
<line x1="219.56" y1="320.5" x2="219.56" y2="314.5"/>
<line x1="219.56" y1="12.8" x2="219.56" y2="18.8"/>
<line x1="65.0" y1="197.26" x2="71.0" y2="197.26"/>
<line x1="450.9" y1="197.26" x2="444.9" y2="197.26"/>
<line x1="228.91" y1="320.5" x2="228.91" y2="314.5"/>
<line x1="228.91" y1="12.8" x2="228.91" y2="18.8"/>
<line x1="65.0" y1="189.81" x2="71.0" y2="189.81"/>
<line x1="450.9" y1="189.81" x2="444.9" y2="189.81"/>
<line x1="236.55" y1="320.5" x2="236.55" y2="314.5"/>
<line x1="236.55" y1="12.8" x2="236.55" y2="18.8"/>
<line x1="65.0" y1="183.72" x2="71.0" y2="183.72"/>
<line x1="450.9" y1="183.72" x2="444.9" y2="183.72"/>
<line x1="243.01" y1="320.5" x2="243.01" y2="314.5"/>
<line x1="243.01" y1="12.8" x2="243.01" y2="18.8"/>
<line x1="65.0" y1="178.57" x2="71.0" y2="178.57"/>
<line x1="450.9" y1="178.57" x2="444.9" y2="178.57"/>
<line x1="248.60" y1="320.5" x2="248.60" y2="314.5"/>
<line x1="248.60" y1="12.8" x2="248.60" y2="18.8"/>
<line x1="65.0" y1="174.10" x2="71.0" y2="174.10"/>
<line x1="450.9" y1="174.10" x2="444.9" y2="174.10"/>
<line x1="253.54" y1="320.5" x2="253.54" y2="314.5"/>
<line x1="253.54" y1="12.8" x2="253.54" y2="18.8"/>
<line x1="65.0" y1="170.17" x2="71.0" y2="170.17"/>
<line x1="450.9" y1="170.17" x2="444.9" y2="170.17"/>
<line x1="257.95" y1="320.5" x2="257.95" y2="309.5"/>
<line x1="257.95" y1="12.8" x2="257.95" y2="23.8"/>
<line x1="65.0" y1="166.65" x2="76.0" y2="166.65"/>
<line x1="450.9" y1="166.65" x2="439.9" y2="166.65"/>
<line x1="286.99" y1="320.5" x2="286.99" y2="314.5"/>
<line x1="286.99" y1="12.8" x2="286.99" y2="18.8"/>
<line x1="65.0" y1="143.49" x2="71.0" y2="143.49"/>
<line x1="450.9" y1="143.49" x2="444.9" y2="143.49"/>
<line x1="303.98" y1="320.5" x2="303.98" y2="314.5"/>
<line x1="303.98" y1="12.8" x2="303.98" y2="18.8"/>
<line x1="65.0" y1="129.95" x2="71.0" y2="129.95"/>
<line x1="450.9" y1="129.95" x2="444.9" y2="129.95"/>
<line x1="316.03" y1="320.5" x2="316.03" y2="314.5"/>
<line x1="316.03" y1="12.8" x2="316.03" y2="18.8"/>
<line x1="65.0" y1="120.34" x2="71.0" y2="120.34"/>
<line x1="450.9" y1="120.34" x2="444.9" y2="120.34"/>
<line x1="325.38" y1="320.5" x2="325.38" y2="314.5"/>
<line x1="325.38" y1="12.8" x2="325.38" y2="18.8"/>
<line x1="65.0" y1="112.88" x2="71.0" y2="112.88"/>
<line x1="450.9" y1="112.88" x2="444.9" y2="112.88"/>
<line x1="333.02" y1="320.5" x2="333.02" y2="314.5"/>
<line x1="333.02" y1="12.8" x2="333.02" y2="18.8"/>
<line x1="65.0" y1="106.79" x2="71.0" y2="106.79"/>
<line x1="450.9" y1="106.79" x2="444.9" y2="106.79"/>
<line x1="339.48" y1="320.5" x2="339.48" y2="314.5"/>
<line x1="339.48" y1="12.8" x2="339.48" y2="18.8"/>
<line x1="65.0" y1="101.64" x2="71.0" y2="101.64"/>
<line x1="450.9" y1="101.64" x2="444.9" y2="101.64"/>
<line x1="345.08" y1="320.5" x2="345.08" y2="314.5"/>
<line x1="345.08" y1="12.8" x2="345.08" y2="18.8"/>
<line x1="65.0" y1="97.18" x2="71.0" y2="97.18"/>
<line x1="450.9" y1="97.18" x2="444.9" y2="97.18"/>
<line x1="350.01" y1="320.5" x2="350.01" y2="314.5"/>
<line x1="350.01" y1="12.8" x2="350.01" y2="18.8"/>
<line x1="65.0" y1="93.24" x2="71.0" y2="93.24"/>
<line x1="450.9" y1="93.24" x2="444.9" y2="93.24"/>
<line x1="354.42" y1="320.5" x2="354.42" y2="309.5"/>
<line x1="354.42" y1="12.8" x2="354.42" y2="23.8"/>
<line x1="65.0" y1="89.72" x2="76.0" y2="89.72"/>
<line x1="450.9" y1="89.72" x2="439.9" y2="89.72"/>
<line x1="383.47" y1="320.5" x2="383.47" y2="314.5"/>
<line x1="383.47" y1="12.8" x2="383.47" y2="18.8"/>
<line x1="65.0" y1="66.57" x2="71.0" y2="66.57"/>
<line x1="450.9" y1="66.57" x2="444.9" y2="66.57"/>
<line x1="400.46" y1="320.5" x2="400.46" y2="314.5"/>
<line x1="400.46" y1="12.8" x2="400.46" y2="18.8"/>
<line x1="65.0" y1="53.02" x2="71.0" y2="53.02"/>
<line x1="450.9" y1="53.02" x2="444.9" y2="53.02"/>
<line x1="412.51" y1="320.5" x2="412.51" y2="314.5"/>
<line x1="412.51" y1="12.8" x2="412.51" y2="18.8"/>
<line x1="65.0" y1="43.41" x2="71.0" y2="43.41"/>
<line x1="450.9" y1="43.41" x2="444.9" y2="43.41"/>
<line x1="421.86" y1="320.5" x2="421.86" y2="314.5"/>
<line x1="421.86" y1="12.8" x2="421.86" y2="18.8"/>
<line x1="65.0" y1="35.96" x2="71.0" y2="35.96"/>
<line x1="450.9" y1="35.96" x2="444.9" y2="35.96"/>
<line x1="429.50" y1="320.5" x2="429.50" y2="314.5"/>
<line x1="429.50" y1="12.8" x2="429.50" y2="18.8"/>
<line x1="65.0" y1="29.87" x2="71.0" y2="29.87"/>
<line x1="450.9" y1="29.87" x2="444.9" y2="29.87"/>
<line x1="435.96" y1="320.5" x2="435.96" y2="314.5"/>
<line x1="435.96" y1="12.8" x2="435.96" y2="18.8"/>
<line x1="65.0" y1="24.72" x2="71.0" y2="24.72"/>
<line x1="450.9" y1="24.72" x2="444.9" y2="24.72"/>
<line x1="441.55" y1="320.5" x2="441.55" y2="314.5"/>
<line x1="441.55" y1="12.8" x2="441.55" y2="18.8"/>
<line x1="65.0" y1="20.25" x2="71.0" y2="20.25"/>
<line x1="450.9" y1="20.25" x2="444.9" y2="20.25"/>
<line x1="446.49" y1="320.5" x2="446.49" y2="314.5"/>
<line x1="446.49" y1="12.8" x2="446.49" y2="18.8"/>
<line x1="65.0" y1="16.32" x2="71.0" y2="16.32"/>
<line x1="450.9" y1="16.32" x2="444.9" y2="16.32"/>
<line x1="450.90" y1="320.5" x2="450.90" y2="309.5"/>
<line x1="450.90" y1="12.8" x2="450.90" y2="23.8"/>
<line x1="65.0" y1="12.80" x2="76.0" y2="12.80"/>
<line x1="450.9" y1="12.80" x2="439.9" y2="12.80"/>
</g>
<rect x="65.0" y="12.8" width="385.9" height="307.7" fill="none" stroke="#000" stroke-width="1.9"/>
<text transform="translate(64.9,340.8) scale(0.96,1)" text-anchor="middle" class="tl">10<tspan dy="-6.8" class="sup">−4</tspan></text>
<text transform="translate(62.0,326.3) scale(0.96,1)" text-anchor="end" class="tl">10<tspan dy="-6.8" class="sup">−4</tspan></text>
<text transform="translate(161.4,340.8) scale(0.96,1)" text-anchor="middle" class="tl">10<tspan dy="-6.8" class="sup">−3</tspan></text>
<text transform="translate(62.0,249.4) scale(0.96,1)" text-anchor="end" class="tl">10<tspan dy="-6.8" class="sup">−3</tspan></text>
<text transform="translate(257.8,340.8) scale(0.96,1)" text-anchor="middle" class="tl">10<tspan dy="-6.8" class="sup">−2</tspan></text>
<text transform="translate(62.0,172.5) scale(0.96,1)" text-anchor="end" class="tl">10<tspan dy="-6.8" class="sup">−2</tspan></text>
<text transform="translate(354.3,340.8) scale(0.96,1)" text-anchor="middle" class="tl">10<tspan dy="-6.8" class="sup">−1</tspan></text>
<text transform="translate(62.0,95.5) scale(0.96,1)" text-anchor="end" class="tl">10<tspan dy="-6.8" class="sup">−1</tspan></text>
<text transform="translate(451.2,340.6) scale(0.93,1)" text-anchor="middle" class="tl">1</text>
<text transform="translate(62.3,18.6) scale(0.93,1)" text-anchor="end" class="tl">1</text>
<g id="txt">
<text transform="translate(127.3,65) scale(1.085,1)" class="bold">Disfavored by 0<tspan font-style="italic" font-weight="normal" stroke="#000" stroke-width="0.45" dx="0.5" letter-spacing="1.1">νββ</tspan></text>
<text transform="translate(389.6,301.8) rotate(-90) scale(1.085,1)" class="bold">Disfavored by Cosmology</text>
<text transform="translate(207.6,369.7) scale(1.12,1)" class="mi">m</text>
<text transform="translate(223.8,372.9) scale(1.16,1)" class="sub">lightest</text>
<text transform="translate(277.6,369.7) scale(0.93,1)" class="ev">[eV]</text>
<g transform="translate(20.7,205.5) rotate(-90)">
<rect x="-0.7" y="-14.5" width="1.4" height="17.5" fill="#000"/>
<text transform="translate(2.8,0) scale(1.12,1)" class="mi">m</text>
<text transform="translate(19.6,3.0) scale(1.06,1)" class="sub">ee</text>
<rect x="36.3" y="-14.5" width="1.4" height="17.5" fill="#000"/>
<text transform="translate(46.3,0) scale(0.95,1)" class="ev">[eV]</text>
</g>
</g>
</svg>
</body></html>
